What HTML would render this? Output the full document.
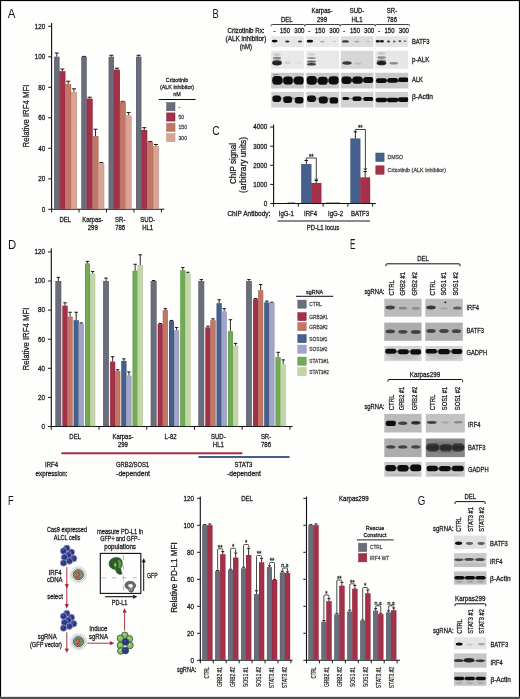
<!DOCTYPE html>
<html lang="en"><head><meta charset="utf-8"><title>Figure</title>
<style>html,body{margin:0;padding:0;background:#fff}svg{display:block}</style></head>
<body>
<svg width="520" height="699" viewBox="0 0 520 699" font-family="'Liberation Sans', Arial, sans-serif" shape-rendering="auto">
<defs><filter id="b1" x="-20%" y="-50%" width="140%" height="200%"><feGaussianBlur stdDeviation="0.7"/></filter><filter id="b10" x="-20%" y="-50%" width="140%" height="200%"><feGaussianBlur stdDeviation="1.0"/></filter><filter id="b15" x="-20%" y="-50%" width="140%" height="200%"><feGaussianBlur stdDeviation="1.2"/></filter><filter id="b2" x="-30%" y="-30%" width="160%" height="160%"><feGaussianBlur stdDeviation="2.5"/></filter><filter id="b05" x="-20%" y="-20%" width="140%" height="140%"><feGaussianBlur stdDeviation="0.35"/></filter><filter id="soft" x="0" y="0" width="100%" height="100%" filterUnits="userSpaceOnUse"><feGaussianBlur stdDeviation="0.32"/></filter></defs>
<rect x="0" y="0" width="520" height="699" fill="#fefefd" />
<g filter="url(#soft)">
<text transform="translate(7.8 18.1) scale(0.87 1)" x="0" y="0" font-size="13.24" fill="#151515">A</text>
<line x1="51.6" y1="23" x2="51.6" y2="209.8" stroke="#111" stroke-width="1.1" stroke-linecap="butt"/>
<line x1="51.1" y1="209.3" x2="164.3" y2="209.3" stroke="#111" stroke-width="1.1" stroke-linecap="butt"/>
<line x1="48.2" y1="209.3" x2="51.6" y2="209.3" stroke="#111" stroke-width="0.95" stroke-linecap="butt"/>
<text x="45.2" y="211.68" font-size="6.6" text-anchor="end" textLength="3.47" lengthAdjust="spacingAndGlyphs" fill="#1a1a1a" stroke="#1a1a1a" stroke-width="0.27">0</text>
<line x1="48.2" y1="178.8" x2="51.6" y2="178.8" stroke="#111" stroke-width="0.95" stroke-linecap="butt"/>
<text x="45.2" y="181.18" font-size="6.6" text-anchor="end" textLength="6.94" lengthAdjust="spacingAndGlyphs" fill="#1a1a1a" stroke="#1a1a1a" stroke-width="0.27">20</text>
<line x1="48.2" y1="148.3" x2="51.6" y2="148.3" stroke="#111" stroke-width="0.95" stroke-linecap="butt"/>
<text x="45.2" y="150.68" font-size="6.6" text-anchor="end" textLength="6.94" lengthAdjust="spacingAndGlyphs" fill="#1a1a1a" stroke="#1a1a1a" stroke-width="0.27">40</text>
<line x1="48.2" y1="117.8" x2="51.6" y2="117.8" stroke="#111" stroke-width="0.95" stroke-linecap="butt"/>
<text x="45.2" y="120.18" font-size="6.6" text-anchor="end" textLength="6.94" lengthAdjust="spacingAndGlyphs" fill="#1a1a1a" stroke="#1a1a1a" stroke-width="0.27">60</text>
<line x1="48.2" y1="87.3" x2="51.6" y2="87.3" stroke="#111" stroke-width="0.95" stroke-linecap="butt"/>
<text x="45.2" y="89.68" font-size="6.6" text-anchor="end" textLength="6.94" lengthAdjust="spacingAndGlyphs" fill="#1a1a1a" stroke="#1a1a1a" stroke-width="0.27">80</text>
<line x1="48.2" y1="56.8" x2="51.6" y2="56.8" stroke="#111" stroke-width="0.95" stroke-linecap="butt"/>
<text x="45.2" y="59.18" font-size="6.6" text-anchor="end" textLength="10.41" lengthAdjust="spacingAndGlyphs" fill="#1a1a1a" stroke="#1a1a1a" stroke-width="0.27">100</text>
<line x1="48.2" y1="26.3" x2="51.6" y2="26.3" stroke="#111" stroke-width="0.95" stroke-linecap="butt"/>
<text x="45.2" y="28.68" font-size="6.6" text-anchor="end" textLength="10.41" lengthAdjust="spacingAndGlyphs" fill="#1a1a1a" stroke="#1a1a1a" stroke-width="0.27">120</text>
<line x1="51.6" y1="209.3" x2="51.6" y2="212.5" stroke="#111" stroke-width="0.95" stroke-linecap="butt"/>
<line x1="79.05" y1="209.3" x2="79.05" y2="212.5" stroke="#111" stroke-width="0.95" stroke-linecap="butt"/>
<line x1="106.5" y1="209.3" x2="106.5" y2="212.5" stroke="#111" stroke-width="0.95" stroke-linecap="butt"/>
<line x1="133.95" y1="209.3" x2="133.95" y2="212.5" stroke="#111" stroke-width="0.95" stroke-linecap="butt"/>
<line x1="161.4" y1="209.3" x2="161.4" y2="212.5" stroke="#111" stroke-width="0.95" stroke-linecap="butt"/>
<text transform="translate(26 116) rotate(-90)" x="0" y="3.09" font-size="8.58" text-anchor="middle" textLength="63" lengthAdjust="spacingAndGlyphs" fill="#1a1a1a" stroke="#1a1a1a" stroke-width="0.27">Relative IRF4 MFI</text>
<line x1="56.75" y1="56.8" x2="56.75" y2="52.99" stroke="#151515" stroke-width="0.9" stroke-linecap="butt"/>
<line x1="54.75" y1="52.99" x2="58.75" y2="52.99" stroke="#151515" stroke-width="1" stroke-linecap="butt"/>
<rect x="54.1" y="56.8" width="5.3" height="152" fill="#6a6d7a" />
<rect x="54.35" y="57.05" width="4.8" height="151.75" fill="none" stroke="#555866" stroke-width="0.5" opacity="0.7"/>
<line x1="62.35" y1="71.29" x2="62.35" y2="69" stroke="#151515" stroke-width="0.9" stroke-linecap="butt"/>
<line x1="60.35" y1="69" x2="64.35" y2="69" stroke="#151515" stroke-width="1" stroke-linecap="butt"/>
<rect x="59.4" y="71.29" width="5.9" height="137.51" fill="#a3304a" />
<rect x="59.65" y="71.54" width="5.4" height="137.26" fill="none" stroke="#8d2840" stroke-width="0.5" opacity="0.7"/>
<line x1="68.2" y1="84.25" x2="68.2" y2="81.2" stroke="#151515" stroke-width="0.9" stroke-linecap="butt"/>
<line x1="66.2" y1="81.2" x2="70.2" y2="81.2" stroke="#151515" stroke-width="1" stroke-linecap="butt"/>
<rect x="65.3" y="84.25" width="5.8" height="124.55" fill="#c07766" />
<rect x="65.55" y="84.5" width="5.3" height="124.3" fill="none" stroke="#a96455" stroke-width="0.5" opacity="0.7"/>
<line x1="74" y1="91.88" x2="74" y2="88.83" stroke="#151515" stroke-width="0.9" stroke-linecap="butt"/>
<line x1="72" y1="88.83" x2="76" y2="88.83" stroke="#151515" stroke-width="1" stroke-linecap="butt"/>
<rect x="71.1" y="91.88" width="5.8" height="116.92" fill="#d9a494" />
<rect x="71.35" y="92.13" width="5.3" height="116.67" fill="none" stroke="#c38f80" stroke-width="0.5" opacity="0.7"/>
<text x="65.33" y="221.88" font-size="6.6" text-anchor="middle" textLength="11.67" lengthAdjust="spacingAndGlyphs" fill="#1a1a1a" stroke="#1a1a1a" stroke-width="0.27">DEL</text>
<line x1="84.05" y1="56.8" x2="84.05" y2="56.42" stroke="#151515" stroke-width="0.9" stroke-linecap="butt"/>
<line x1="82.05" y1="56.42" x2="86.05" y2="56.42" stroke="#151515" stroke-width="1" stroke-linecap="butt"/>
<rect x="81.4" y="56.8" width="5.3" height="152" fill="#6a6d7a" />
<rect x="81.65" y="57.05" width="4.8" height="151.75" fill="none" stroke="#555866" stroke-width="0.5" opacity="0.7"/>
<line x1="89.65" y1="98.74" x2="89.65" y2="97.21" stroke="#151515" stroke-width="0.9" stroke-linecap="butt"/>
<line x1="87.65" y1="97.21" x2="91.65" y2="97.21" stroke="#151515" stroke-width="1" stroke-linecap="butt"/>
<rect x="86.7" y="98.74" width="5.9" height="110.06" fill="#a3304a" />
<rect x="86.95" y="98.99" width="5.4" height="109.81" fill="none" stroke="#8d2840" stroke-width="0.5" opacity="0.7"/>
<line x1="95.5" y1="136.1" x2="95.5" y2="129.24" stroke="#151515" stroke-width="0.9" stroke-linecap="butt"/>
<line x1="93.5" y1="129.24" x2="97.5" y2="129.24" stroke="#151515" stroke-width="1" stroke-linecap="butt"/>
<rect x="92.6" y="136.1" width="5.8" height="72.7" fill="#c07766" />
<rect x="92.85" y="136.35" width="5.3" height="72.45" fill="none" stroke="#a96455" stroke-width="0.5" opacity="0.7"/>
<line x1="101.3" y1="163.25" x2="101.3" y2="162.64" stroke="#151515" stroke-width="0.9" stroke-linecap="butt"/>
<line x1="99.3" y1="162.64" x2="103.3" y2="162.64" stroke="#151515" stroke-width="1" stroke-linecap="butt"/>
<rect x="98.4" y="163.25" width="5.8" height="45.56" fill="#d9a494" />
<rect x="98.65" y="163.5" width="5.3" height="45.31" fill="none" stroke="#c38f80" stroke-width="0.5" opacity="0.7"/>
<text x="92.78" y="221.88" font-size="6.6" text-anchor="middle" textLength="21.01" lengthAdjust="spacingAndGlyphs" fill="#1a1a1a" stroke="#1a1a1a" stroke-width="0.27">Karpas-</text>
<text x="92.78" y="230.18" font-size="6.6" text-anchor="middle" textLength="10.01" lengthAdjust="spacingAndGlyphs" fill="#1a1a1a" stroke="#1a1a1a" stroke-width="0.27">299</text>
<line x1="111.35" y1="56.8" x2="111.35" y2="55.28" stroke="#151515" stroke-width="0.9" stroke-linecap="butt"/>
<line x1="109.35" y1="55.28" x2="113.35" y2="55.28" stroke="#151515" stroke-width="1" stroke-linecap="butt"/>
<rect x="108.7" y="56.8" width="5.3" height="152" fill="#6a6d7a" />
<rect x="108.95" y="57.05" width="4.8" height="151.75" fill="none" stroke="#555866" stroke-width="0.5" opacity="0.7"/>
<line x1="116.95" y1="69.76" x2="116.95" y2="68.24" stroke="#151515" stroke-width="0.9" stroke-linecap="butt"/>
<line x1="114.95" y1="68.24" x2="118.95" y2="68.24" stroke="#151515" stroke-width="1" stroke-linecap="butt"/>
<rect x="114" y="69.76" width="5.9" height="139.04" fill="#a3304a" />
<rect x="114.25" y="70.01" width="5.4" height="138.79" fill="none" stroke="#8d2840" stroke-width="0.5" opacity="0.7"/>
<line x1="122.8" y1="101.79" x2="122.8" y2="101.33" stroke="#151515" stroke-width="0.9" stroke-linecap="butt"/>
<line x1="120.8" y1="101.33" x2="124.8" y2="101.33" stroke="#151515" stroke-width="1" stroke-linecap="butt"/>
<rect x="119.9" y="101.79" width="5.8" height="107.01" fill="#c07766" />
<rect x="120.15" y="102.04" width="5.3" height="106.76" fill="none" stroke="#a96455" stroke-width="0.5" opacity="0.7"/>
<line x1="128.6" y1="115.51" x2="128.6" y2="112.46" stroke="#151515" stroke-width="0.9" stroke-linecap="butt"/>
<line x1="126.6" y1="112.46" x2="130.6" y2="112.46" stroke="#151515" stroke-width="1" stroke-linecap="butt"/>
<rect x="125.7" y="115.51" width="5.8" height="93.29" fill="#d9a494" />
<rect x="125.95" y="115.76" width="5.3" height="93.04" fill="none" stroke="#c38f80" stroke-width="0.5" opacity="0.7"/>
<text x="120.22" y="221.88" font-size="6.6" text-anchor="middle" textLength="10.33" lengthAdjust="spacingAndGlyphs" fill="#1a1a1a" stroke="#1a1a1a" stroke-width="0.27">SR-</text>
<text x="120.22" y="230.18" font-size="6.6" text-anchor="middle" textLength="10.01" lengthAdjust="spacingAndGlyphs" fill="#1a1a1a" stroke="#1a1a1a" stroke-width="0.27">786</text>
<line x1="138.65" y1="56.8" x2="138.65" y2="55.28" stroke="#151515" stroke-width="0.9" stroke-linecap="butt"/>
<line x1="136.65" y1="55.28" x2="140.65" y2="55.28" stroke="#151515" stroke-width="1" stroke-linecap="butt"/>
<rect x="136" y="56.8" width="5.3" height="152" fill="#6a6d7a" />
<rect x="136.25" y="57.05" width="4.8" height="151.75" fill="none" stroke="#555866" stroke-width="0.5" opacity="0.7"/>
<line x1="144.25" y1="130" x2="144.25" y2="127.71" stroke="#151515" stroke-width="0.9" stroke-linecap="butt"/>
<line x1="142.25" y1="127.71" x2="146.25" y2="127.71" stroke="#151515" stroke-width="1" stroke-linecap="butt"/>
<rect x="141.3" y="130" width="5.9" height="78.8" fill="#a3304a" />
<rect x="141.55" y="130.25" width="5.4" height="78.55" fill="none" stroke="#8d2840" stroke-width="0.5" opacity="0.7"/>
<line x1="150.1" y1="141.9" x2="150.1" y2="141.44" stroke="#151515" stroke-width="0.9" stroke-linecap="butt"/>
<line x1="148.1" y1="141.44" x2="152.1" y2="141.44" stroke="#151515" stroke-width="1" stroke-linecap="butt"/>
<rect x="147.2" y="141.9" width="5.8" height="66.91" fill="#c07766" />
<rect x="147.45" y="142.15" width="5.3" height="66.66" fill="none" stroke="#a96455" stroke-width="0.5" opacity="0.7"/>
<line x1="155.9" y1="146.01" x2="155.9" y2="144.49" stroke="#151515" stroke-width="0.9" stroke-linecap="butt"/>
<line x1="153.9" y1="144.49" x2="157.9" y2="144.49" stroke="#151515" stroke-width="1" stroke-linecap="butt"/>
<rect x="153" y="146.01" width="5.8" height="62.79" fill="#d9a494" />
<rect x="153.25" y="146.26" width="5.3" height="62.54" fill="none" stroke="#c38f80" stroke-width="0.5" opacity="0.7"/>
<text x="147.68" y="221.88" font-size="6.6" text-anchor="middle" textLength="14.67" lengthAdjust="spacingAndGlyphs" fill="#1a1a1a" stroke="#1a1a1a" stroke-width="0.27">SUD-</text>
<text x="147.68" y="230.18" font-size="6.6" text-anchor="middle" textLength="11.01" lengthAdjust="spacingAndGlyphs" fill="#1a1a1a" stroke="#1a1a1a" stroke-width="0.27">HL1</text>
<text x="177" y="82.34" font-size="5.94" text-anchor="middle" textLength="22.51" lengthAdjust="spacingAndGlyphs" fill="#1a1a1a" stroke="#1a1a1a" stroke-width="0.27">Crizotinib</text>
<text x="177" y="89.34" font-size="5.94" text-anchor="middle" textLength="34.22" lengthAdjust="spacingAndGlyphs" fill="#1a1a1a" stroke="#1a1a1a" stroke-width="0.27">(ALK inhibitor)</text>
<text x="177" y="95.94" font-size="5.94" text-anchor="middle" textLength="7.5" lengthAdjust="spacingAndGlyphs" fill="#1a1a1a" stroke="#1a1a1a" stroke-width="0.27">nM</text>
<line x1="158.8" y1="99.5" x2="195.6" y2="99.5" stroke="#111" stroke-width="1" stroke-linecap="butt"/>
<rect x="166.6" y="102.6" width="8.4" height="8.2" fill="#6a6d7a" stroke="#555866" stroke-width="0.5" />
<text x="178.4" y="108.76" font-size="5.72" text-anchor="start" textLength="1.73" lengthAdjust="spacingAndGlyphs" fill="#4a4a4a" stroke="#4a4a4a" stroke-width="0.27">-</text>
<rect x="166.6" y="112.9" width="8.4" height="8.2" fill="#a3304a" stroke="#8d2840" stroke-width="0.5" />
<text x="178.4" y="119.06" font-size="5.72" text-anchor="start" textLength="5.78" lengthAdjust="spacingAndGlyphs" fill="#4a4a4a" stroke="#4a4a4a" stroke-width="0.27">50</text>
<rect x="166.6" y="123.2" width="8.4" height="8.2" fill="#c07766" stroke="#a96455" stroke-width="0.5" />
<text x="178.4" y="129.36" font-size="5.72" text-anchor="start" textLength="8.68" lengthAdjust="spacingAndGlyphs" fill="#4a4a4a" stroke="#4a4a4a" stroke-width="0.27">150</text>
<rect x="166.6" y="133.5" width="8.4" height="8.2" fill="#d9a494" stroke="#c38f80" stroke-width="0.5" />
<text x="178.4" y="139.66" font-size="5.72" text-anchor="start" textLength="8.68" lengthAdjust="spacingAndGlyphs" fill="#4a4a4a" stroke="#4a4a4a" stroke-width="0.27">300</text>
<text transform="translate(212.6 18.3) scale(0.71 1)" x="0" y="0" font-size="13.09" fill="#151515">B</text>
<text x="286.8" y="21.68" font-size="6.6" text-anchor="middle" textLength="11.67" lengthAdjust="spacingAndGlyphs" fill="#1a1a1a" stroke="#1a1a1a" stroke-width="0.27">DEL</text>
<text x="322" y="12.98" font-size="6.6" text-anchor="middle" textLength="21.01" lengthAdjust="spacingAndGlyphs" fill="#1a1a1a" stroke="#1a1a1a" stroke-width="0.27">Karpas-</text>
<text x="322" y="21.68" font-size="6.6" text-anchor="middle" textLength="10.01" lengthAdjust="spacingAndGlyphs" fill="#1a1a1a" stroke="#1a1a1a" stroke-width="0.27">299</text>
<text x="357" y="12.98" font-size="6.6" text-anchor="middle" textLength="14.67" lengthAdjust="spacingAndGlyphs" fill="#1a1a1a" stroke="#1a1a1a" stroke-width="0.27">SUD-</text>
<text x="357" y="21.68" font-size="6.6" text-anchor="middle" textLength="11.01" lengthAdjust="spacingAndGlyphs" fill="#1a1a1a" stroke="#1a1a1a" stroke-width="0.27">HL1</text>
<text x="392" y="12.98" font-size="6.6" text-anchor="middle" textLength="10.33" lengthAdjust="spacingAndGlyphs" fill="#1a1a1a" stroke="#1a1a1a" stroke-width="0.27">SR-</text>
<text x="392" y="21.68" font-size="6.6" text-anchor="middle" textLength="10.01" lengthAdjust="spacingAndGlyphs" fill="#1a1a1a" stroke="#1a1a1a" stroke-width="0.27">786</text>
<path d="M271.2 26.2 L271.2 25.5 Q271.2 24.5 272.2 24.5 L303.6 24.5 Q304.6 24.5 304.6 25.5 L304.6 26.2" fill="none" stroke="#111" stroke-width="0.8" />
<path d="M305 26.2 L305 25.5 Q305 24.5 306 24.5 L339 24.5 Q340 24.5 340 25.5 L340 26.2" fill="none" stroke="#111" stroke-width="0.8" />
<path d="M340.4 26.2 L340.4 25.5 Q340.4 24.5 341.4 24.5 L373.9 24.5 Q374.9 24.5 374.9 25.5 L374.9 26.2" fill="none" stroke="#111" stroke-width="0.8" />
<path d="M375.3 26.2 L375.3 25.5 Q375.3 24.5 376.3 24.5 L408.6 24.5 Q409.6 24.5 409.6 25.5 L409.6 26.2" fill="none" stroke="#111" stroke-width="0.8" />
<text x="264.6" y="32.98" font-size="6.6" text-anchor="end" textLength="37" lengthAdjust="spacingAndGlyphs" fill="#1a1a1a" stroke="#1a1a1a" stroke-width="0.27">Crizotinib Rx:</text>
<text x="245.9" y="40.98" font-size="6.6" text-anchor="middle" textLength="40.8" lengthAdjust="spacingAndGlyphs" fill="#1a1a1a" stroke="#1a1a1a" stroke-width="0.27">(ALK inhibitor)</text>
<text x="245.8" y="48.98" font-size="6.6" text-anchor="middle" textLength="12.33" lengthAdjust="spacingAndGlyphs" fill="#1a1a1a" stroke="#1a1a1a" stroke-width="0.27">(nM)</text>
<text x="274.5" y="33.18" font-size="6.6" text-anchor="middle" textLength="2" lengthAdjust="spacingAndGlyphs" fill="#1a1a1a" stroke="#1a1a1a" stroke-width="0.27">-</text>
<text x="285" y="32.98" font-size="6.6" text-anchor="middle" textLength="10" lengthAdjust="spacingAndGlyphs" fill="#1a1a1a" stroke="#1a1a1a" stroke-width="0.27">150</text>
<text x="299.4" y="32.98" font-size="6.6" text-anchor="middle" textLength="10.2" lengthAdjust="spacingAndGlyphs" fill="#1a1a1a" stroke="#1a1a1a" stroke-width="0.27">300</text>
<text x="309.3" y="33.18" font-size="6.6" text-anchor="middle" textLength="2" lengthAdjust="spacingAndGlyphs" fill="#1a1a1a" stroke="#1a1a1a" stroke-width="0.27">-</text>
<text x="320" y="32.98" font-size="6.6" text-anchor="middle" textLength="10" lengthAdjust="spacingAndGlyphs" fill="#1a1a1a" stroke="#1a1a1a" stroke-width="0.27">150</text>
<text x="334.4" y="32.98" font-size="6.6" text-anchor="middle" textLength="10.2" lengthAdjust="spacingAndGlyphs" fill="#1a1a1a" stroke="#1a1a1a" stroke-width="0.27">300</text>
<text x="344.3" y="33.18" font-size="6.6" text-anchor="middle" textLength="2" lengthAdjust="spacingAndGlyphs" fill="#1a1a1a" stroke="#1a1a1a" stroke-width="0.27">-</text>
<text x="355" y="32.98" font-size="6.6" text-anchor="middle" textLength="10" lengthAdjust="spacingAndGlyphs" fill="#1a1a1a" stroke="#1a1a1a" stroke-width="0.27">150</text>
<text x="369.1" y="32.98" font-size="6.6" text-anchor="middle" textLength="10.2" lengthAdjust="spacingAndGlyphs" fill="#1a1a1a" stroke="#1a1a1a" stroke-width="0.27">300</text>
<text x="379" y="33.18" font-size="6.6" text-anchor="middle" textLength="2" lengthAdjust="spacingAndGlyphs" fill="#1a1a1a" stroke="#1a1a1a" stroke-width="0.27">-</text>
<text x="389.5" y="32.98" font-size="6.6" text-anchor="middle" textLength="10" lengthAdjust="spacingAndGlyphs" fill="#1a1a1a" stroke="#1a1a1a" stroke-width="0.27">150</text>
<text x="403.9" y="32.98" font-size="6.6" text-anchor="middle" textLength="10.2" lengthAdjust="spacingAndGlyphs" fill="#1a1a1a" stroke="#1a1a1a" stroke-width="0.27">300</text>
<text x="412" y="44.18" font-size="6.6" text-anchor="start" textLength="17.5" lengthAdjust="spacingAndGlyphs" fill="#1a1a1a" stroke="#1a1a1a" stroke-width="0.27">BATF3</text>
<text x="412" y="61.98" font-size="6.6" text-anchor="start" textLength="17.4" lengthAdjust="spacingAndGlyphs" fill="#1a1a1a" stroke="#1a1a1a" stroke-width="0.27">p-ALK</text>
<text x="412" y="82.48" font-size="6.6" text-anchor="start" textLength="11" lengthAdjust="spacingAndGlyphs" fill="#1a1a1a" stroke="#1a1a1a" stroke-width="0.27">ALK</text>
<text x="412" y="98.78" font-size="6.6" text-anchor="start" textLength="21" lengthAdjust="spacingAndGlyphs" fill="#1a1a1a" stroke="#1a1a1a" stroke-width="0.27">β-Actin</text>
<clipPath id="c141"><rect x="271.2" y="36.2" width="32.6" height="10.8"/></clipPath>
<rect x="271.2" y="36.2" width="32.6" height="10.8" fill="#e7e7e7" />
<g clip-path="url(#c141)">
<g filter="url(#b1)">
<ellipse cx="274.6" cy="41.1" rx="3" ry="1.4" fill="#0c0c0c" opacity="1"/>
<ellipse cx="287.3" cy="41.5" rx="2.2" ry="1" fill="#0c0c0c" opacity="0.85"/>
<ellipse cx="300" cy="41.5" rx="2.2" ry="1" fill="#0c0c0c" opacity="0.72"/>
</g></g>
<clipPath id="c149"><rect x="306.2" y="36.2" width="33" height="10.8"/></clipPath>
<rect x="306.2" y="36.2" width="33" height="10.8" fill="#e9e9e9" />
<g clip-path="url(#c149)">
<g filter="url(#b1)">
<ellipse cx="309.9" cy="41.2" rx="3.2" ry="1.4" fill="#0c0c0c" opacity="1"/>
<ellipse cx="322.2" cy="41.6" rx="2.2" ry="0.9" fill="#0c0c0c" opacity="0.28"/>
<ellipse cx="334.5" cy="41.6" rx="2" ry="0.8" fill="#0c0c0c" opacity="0.12"/>
</g></g>
<clipPath id="c157"><rect x="340.8" y="36.2" width="32.7" height="10.8"/></clipPath>
<rect x="340.8" y="36.2" width="32.7" height="10.8" fill="#dcdcdc" />
<g clip-path="url(#c157)">
<g filter="url(#b1)">
<ellipse cx="345.4" cy="41.4" rx="3.4" ry="1.2" fill="#0c0c0c" opacity="0.8"/>
<ellipse cx="356.8" cy="41.6" rx="2.8" ry="0.9" fill="#0c0c0c" opacity="0.25"/>
<ellipse cx="368" cy="41.6" rx="2.5" ry="0.8" fill="#0c0c0c" opacity="0.1"/>
</g></g>
<clipPath id="c165"><rect x="375.3" y="36.2" width="32.9" height="10.8"/></clipPath>
<rect x="375.3" y="36.2" width="32.9" height="10.8" fill="#e4e4e4" />
<g clip-path="url(#c165)">
<g filter="url(#b1)">
<ellipse cx="377.8" cy="41.3" rx="2.2" ry="1.3" fill="#0c0c0c" opacity="0.95"/>
<ellipse cx="381.9" cy="41.3" rx="2" ry="1.3" fill="#0c0c0c" opacity="0.95"/>
<ellipse cx="388.5" cy="41.5" rx="1.6" ry="1.1" fill="#0c0c0c" opacity="0.8"/>
<ellipse cx="394.2" cy="41.5" rx="1.3" ry="0.9" fill="#0c0c0c" opacity="0.65"/>
<ellipse cx="399.9" cy="41.2" rx="1.5" ry="1" fill="#0c0c0c" opacity="0.7"/>
<ellipse cx="405" cy="41.2" rx="1.4" ry="0.9" fill="#0c0c0c" opacity="0.45"/>
</g></g>
<clipPath id="c176"><rect x="271.2" y="50.8" width="32.6" height="18"/></clipPath>
<rect x="271.2" y="50.8" width="32.6" height="18" fill="#e8e8e8" />
<g clip-path="url(#c176)">
<g filter="url(#b1)">
<ellipse cx="277" cy="63" rx="4.9" ry="2.4" fill="#0c0c0c" opacity="0.82"/>
<ellipse cx="277" cy="63.2" rx="4.2" ry="1.5" fill="#0c0c0c" opacity="0.55"/>
<ellipse cx="277" cy="58" rx="4.1" ry="1.3" fill="#0c0c0c" opacity="0.42"/>
<ellipse cx="277" cy="54.4" rx="3.7" ry="1.5" fill="#0c0c0c" opacity="0.13"/>
<ellipse cx="277" cy="60.4" rx="4.2" ry="1" fill="#0c0c0c" opacity="0.35"/>
<ellipse cx="287.5" cy="62.8" rx="3" ry="1.2" fill="#0c0c0c" opacity="0.12"/>
<ellipse cx="299" cy="62.8" rx="2.5" ry="1" fill="#0c0c0c" opacity="0.05"/>
</g></g>
<clipPath id="c188"><rect x="306.2" y="50.8" width="33" height="18"/></clipPath>
<rect x="306.2" y="50.8" width="33" height="18" fill="#e8e8e8" />
<g clip-path="url(#c188)">
<g filter="url(#b1)">
<ellipse cx="311.5" cy="64.2" rx="4.6" ry="1.3" fill="#0c0c0c" opacity="0.78"/>
<ellipse cx="311.5" cy="61.6" rx="4.5" ry="1.2" fill="#0c0c0c" opacity="0.6"/>
<ellipse cx="311.5" cy="58" rx="4.3" ry="1.1" fill="#0c0c0c" opacity="0.36"/>
<ellipse cx="311.5" cy="54.4" rx="3.7" ry="1.1" fill="#0c0c0c" opacity="0.12"/>
</g></g>
<clipPath id="c197"><rect x="340.8" y="50.8" width="32.7" height="18"/></clipPath>
<rect x="340.8" y="50.8" width="32.7" height="18" fill="#d6d6d6" />
<g clip-path="url(#c197)">
<g filter="url(#b1)">
<ellipse cx="347" cy="63" rx="4.7" ry="1.7" fill="#0c0c0c" opacity="0.8"/>
<ellipse cx="358" cy="63.4" rx="3.25" ry="1" fill="#0c0c0c" opacity="0.12"/>
</g></g>
<clipPath id="c204"><rect x="375.3" y="50.8" width="32.9" height="18"/></clipPath>
<rect x="375.3" y="50.8" width="32.9" height="18" fill="#e6e6e6" />
<g clip-path="url(#c204)">
<g filter="url(#b1)">
<ellipse cx="381.5" cy="63" rx="4.9" ry="2.3" fill="#0c0c0c" opacity="0.84"/>
<ellipse cx="381.5" cy="63.2" rx="4.2" ry="1.4" fill="#0c0c0c" opacity="0.5"/>
<ellipse cx="381.5" cy="60.4" rx="4.5" ry="1" fill="#0c0c0c" opacity="0.4"/>
<ellipse cx="381.5" cy="57.6" rx="4.5" ry="1.3" fill="#0c0c0c" opacity="0.4"/>
<ellipse cx="381.5" cy="53.4" rx="4" ry="1.2" fill="#0c0c0c" opacity="0.15"/>
<ellipse cx="393.7" cy="63.2" rx="4.3" ry="1.3" fill="#0c0c0c" opacity="0.4"/>
</g></g>
<clipPath id="c215"><rect x="271.2" y="72.8" width="32.6" height="15.7"/></clipPath>
<rect x="271.2" y="72.8" width="32.6" height="15.7" fill="#c9c9c9" />
<g clip-path="url(#c215)">
<g filter="url(#b1)">
<rect x="272.2" y="76.1" width="10.2" height="8.6" rx="3.61" fill="#0c0c0c" opacity="1"/>
<rect x="283.3" y="76.6" width="9.4" height="8" rx="3.36" fill="#0c0c0c" opacity="1"/>
<rect x="294" y="76.6" width="9.8" height="8" rx="3.36" fill="#0c0c0c" opacity="1"/>
<ellipse cx="287.5" cy="80.6" rx="15" ry="2" fill="#0c0c0c" opacity="0.6"/>
<ellipse cx="276" cy="74.6" rx="3" ry="0.7" fill="#0c0c0c" opacity="0.35"/>
</g></g>
<clipPath id="c225"><rect x="306.2" y="72.8" width="33" height="15.7"/></clipPath>
<rect x="306.2" y="72.8" width="33" height="15.7" fill="#c9c9c9" />
<g clip-path="url(#c225)">
<g filter="url(#b1)">
<rect x="306.6" y="76.1" width="10.2" height="8.6" rx="3.61" fill="#0c0c0c" opacity="1"/>
<rect x="317.9" y="76.8" width="9.6" height="8" rx="3.36" fill="#0c0c0c" opacity="1"/>
<rect x="328.7" y="76.3" width="10" height="8.2" rx="3.44" fill="#0c0c0c" opacity="1"/>
<ellipse cx="322.7" cy="80.6" rx="15" ry="2" fill="#0c0c0c" opacity="0.6"/>
</g></g>
<clipPath id="c234"><rect x="340.8" y="72.8" width="32.7" height="15.7"/></clipPath>
<rect x="340.8" y="72.8" width="32.7" height="15.7" fill="#c9c9c9" />
<g clip-path="url(#c234)">
<g filter="url(#b1)">
<rect x="341.5" y="76.5" width="10" height="7.4" rx="3.11" fill="#0c0c0c" opacity="1"/>
<rect x="352.5" y="76.6" width="10" height="7.2" rx="3.02" fill="#0c0c0c" opacity="1"/>
<rect x="363.3" y="77" width="10" height="6" rx="2.52" fill="#0c0c0c" opacity="1"/>
<ellipse cx="357.5" cy="80.2" rx="15" ry="1.8" fill="#0c0c0c" opacity="0.7"/>
</g></g>
<clipPath id="c243"><rect x="375.3" y="72.8" width="32.9" height="15.7"/></clipPath>
<rect x="375.3" y="72.8" width="32.9" height="15.7" fill="#c9c9c9" />
<g clip-path="url(#c243)">
<g filter="url(#b1)">
<rect x="376" y="78.2" width="10.6" height="4.8" rx="2.02" fill="#0c0c0c" opacity="1"/>
<rect x="387.4" y="78" width="10.4" height="4.8" rx="2.02" fill="#0c0c0c" opacity="1"/>
<rect x="398.4" y="77.5" width="10" height="4.6" rx="1.93" fill="#0c0c0c" opacity="1"/>
<ellipse cx="392" cy="80.6" rx="17" ry="1.2" fill="#0c0c0c" opacity="0.7"/>
</g></g>
<clipPath id="c252"><rect x="271.2" y="91.9" width="32.6" height="15.6"/></clipPath>
<rect x="271.2" y="91.9" width="32.6" height="15.6" fill="#d1d1d1" />
<g clip-path="url(#c252)">
<g filter="url(#b1)">
<rect x="272.4" y="95.4" width="8.6" height="6.6" rx="2.77" fill="#0c0c0c" opacity="1"/>
<rect x="283.3" y="96.3" width="8.8" height="6.6" rx="2.77" fill="#0c0c0c" opacity="1"/>
<rect x="294.8" y="97" width="8.8" height="6.4" rx="2.69" fill="#0c0c0c" opacity="1"/>
<ellipse cx="288" cy="98.4" rx="15" ry="1" fill="#0c0c0c" opacity="0.3"/>
</g></g>
<clipPath id="c261"><rect x="306.2" y="91.9" width="33" height="15.6"/></clipPath>
<rect x="306.2" y="91.9" width="33" height="15.6" fill="#d1d1d1" />
<g clip-path="url(#c261)">
<g filter="url(#b1)">
<rect x="307.1" y="95.4" width="8.8" height="6.6" rx="2.77" fill="#0c0c0c" opacity="1"/>
<rect x="318.8" y="96.5" width="9" height="7" rx="2.94" fill="#0c0c0c" opacity="1"/>
<rect x="329.6" y="97.2" width="8.6" height="6.4" rx="2.69" fill="#0c0c0c" opacity="1"/>
<ellipse cx="322.7" cy="98.6" rx="15" ry="1" fill="#0c0c0c" opacity="0.3"/>
</g></g>
<clipPath id="c270"><rect x="340.8" y="91.9" width="32.7" height="15.6"/></clipPath>
<rect x="340.8" y="91.9" width="32.7" height="15.6" fill="#d1d1d1" />
<g clip-path="url(#c270)">
<g filter="url(#b1)">
<rect x="342.5" y="96.9" width="6.6" height="3.2" rx="1.34" fill="#0c0c0c" opacity="1"/>
<rect x="352.5" y="96.5" width="9" height="4.4" rx="1.85" fill="#0c0c0c" opacity="1"/>
<rect x="363.4" y="96.9" width="9.8" height="4.2" rx="1.76" fill="#0c0c0c" opacity="1"/>
<ellipse cx="357.5" cy="98.6" rx="15" ry="0.7" fill="#0c0c0c" opacity="0.35"/>
</g></g>
<clipPath id="c279"><rect x="375.3" y="91.9" width="32.9" height="15.6"/></clipPath>
<rect x="375.3" y="91.9" width="32.9" height="15.6" fill="#d1d1d1" />
<g clip-path="url(#c279)">
<g filter="url(#b1)">
<rect x="375.8" y="97.7" width="11" height="4.6" rx="1.93" fill="#0c0c0c" opacity="1"/>
<rect x="387.1" y="97.7" width="11" height="4.6" rx="1.93" fill="#0c0c0c" opacity="1"/>
<rect x="398.1" y="97.3" width="10.6" height="4.6" rx="1.93" fill="#0c0c0c" opacity="1"/>
<ellipse cx="392" cy="99.8" rx="17" ry="1.5" fill="#0c0c0c" opacity="0.85"/>
</g></g>
<text transform="translate(212.2 134.67) scale(0.77 1)" x="0" y="0" font-size="13.29" fill="#151515">C</text>
<line x1="273.6" y1="124.6" x2="273.6" y2="204" stroke="#111" stroke-width="1.1" stroke-linecap="butt"/>
<line x1="273.1" y1="203.5" x2="375.8" y2="203.5" stroke="#111" stroke-width="1.1" stroke-linecap="butt"/>
<line x1="270.2" y1="203.5" x2="273.6" y2="203.5" stroke="#111" stroke-width="0.95" stroke-linecap="butt"/>
<text x="267.2" y="205.88" font-size="6.6" text-anchor="end" textLength="3.47" lengthAdjust="spacingAndGlyphs" fill="#1a1a1a" stroke="#1a1a1a" stroke-width="0.27">0</text>
<line x1="270.2" y1="184.4" x2="273.6" y2="184.4" stroke="#111" stroke-width="0.95" stroke-linecap="butt"/>
<text x="267.2" y="186.78" font-size="6.6" text-anchor="end" textLength="13.88" lengthAdjust="spacingAndGlyphs" fill="#1a1a1a" stroke="#1a1a1a" stroke-width="0.27">1000</text>
<line x1="270.2" y1="165.3" x2="273.6" y2="165.3" stroke="#111" stroke-width="0.95" stroke-linecap="butt"/>
<text x="267.2" y="167.68" font-size="6.6" text-anchor="end" textLength="13.88" lengthAdjust="spacingAndGlyphs" fill="#1a1a1a" stroke="#1a1a1a" stroke-width="0.27">2000</text>
<line x1="270.2" y1="146.2" x2="273.6" y2="146.2" stroke="#111" stroke-width="0.95" stroke-linecap="butt"/>
<text x="267.2" y="148.58" font-size="6.6" text-anchor="end" textLength="13.88" lengthAdjust="spacingAndGlyphs" fill="#1a1a1a" stroke="#1a1a1a" stroke-width="0.27">3000</text>
<line x1="270.2" y1="127.1" x2="273.6" y2="127.1" stroke="#111" stroke-width="0.95" stroke-linecap="butt"/>
<text x="267.2" y="129.48" font-size="6.6" text-anchor="end" textLength="13.88" lengthAdjust="spacingAndGlyphs" fill="#1a1a1a" stroke="#1a1a1a" stroke-width="0.27">4000</text>
<line x1="273.6" y1="203.5" x2="273.6" y2="206.7" stroke="#111" stroke-width="0.95" stroke-linecap="butt"/>
<line x1="298.35" y1="203.5" x2="298.35" y2="206.7" stroke="#111" stroke-width="0.95" stroke-linecap="butt"/>
<line x1="323.1" y1="203.5" x2="323.1" y2="206.7" stroke="#111" stroke-width="0.95" stroke-linecap="butt"/>
<line x1="347.85" y1="203.5" x2="347.85" y2="206.7" stroke="#111" stroke-width="0.95" stroke-linecap="butt"/>
<line x1="372.6" y1="203.5" x2="372.6" y2="206.7" stroke="#111" stroke-width="0.95" stroke-linecap="butt"/>
<text transform="translate(233 163.5) rotate(-90)" x="0" y="3.09" font-size="8.58" text-anchor="middle" textLength="41" lengthAdjust="spacingAndGlyphs" fill="#1a1a1a" stroke="#1a1a1a" stroke-width="0.27">ChIP signal</text>
<text transform="translate(243.4 165) rotate(-90)" x="0" y="3.09" font-size="8.58" text-anchor="middle" textLength="56" lengthAdjust="spacingAndGlyphs" fill="#1a1a1a" stroke="#1a1a1a" stroke-width="0.27">(arbitrary units)</text>
<line x1="287.5" y1="202.6" x2="295" y2="202.6" stroke="#555" stroke-width="0.6" stroke-linecap="butt"/>
<line x1="326" y1="202.6" x2="340" y2="202.6" stroke="#555" stroke-width="0.6" stroke-linecap="butt"/>
<line x1="306.3" y1="164.15" x2="306.3" y2="160.53" stroke="#151515" stroke-width="0.9" stroke-linecap="butt"/>
<line x1="304.5" y1="160.53" x2="308.1" y2="160.53" stroke="#151515" stroke-width="1" stroke-linecap="butt"/>
<rect x="301.3" y="164.15" width="10" height="38.85" fill="#45618c" />
<rect x="301.55" y="164.4" width="9.5" height="38.6" fill="none" stroke="#364e73" stroke-width="0.5" opacity="0.7"/>
<line x1="316.3" y1="182.97" x2="316.3" y2="180.58" stroke="#151515" stroke-width="0.9" stroke-linecap="butt"/>
<line x1="314.5" y1="180.58" x2="318.1" y2="180.58" stroke="#151515" stroke-width="1" stroke-linecap="butt"/>
<rect x="311.3" y="182.97" width="10" height="20.03" fill="#a3304a" />
<rect x="311.55" y="183.22" width="9.5" height="19.78" fill="none" stroke="#8d2840" stroke-width="0.5" opacity="0.7"/>
<line x1="355.4" y1="138.56" x2="355.4" y2="131.88" stroke="#151515" stroke-width="0.9" stroke-linecap="butt"/>
<line x1="353.6" y1="131.88" x2="357.2" y2="131.88" stroke="#151515" stroke-width="1" stroke-linecap="butt"/>
<rect x="350.5" y="138.56" width="9.8" height="64.44" fill="#45618c" />
<rect x="350.75" y="138.81" width="9.3" height="64.19" fill="none" stroke="#364e73" stroke-width="0.5" opacity="0.7"/>
<line x1="365.2" y1="177.52" x2="365.2" y2="171.41" stroke="#151515" stroke-width="0.9" stroke-linecap="butt"/>
<line x1="363.4" y1="171.41" x2="367" y2="171.41" stroke="#151515" stroke-width="1" stroke-linecap="butt"/>
<rect x="360.3" y="177.52" width="9.8" height="25.48" fill="#a3304a" />
<rect x="360.55" y="177.77" width="9.3" height="25.23" fill="none" stroke="#8d2840" stroke-width="0.5" opacity="0.7"/>
<path d="M306.3 161 L306.3 158 L316.3 158 L316.3 180.4" fill="none" stroke="#111" stroke-width="0.8" />
<path d="M314.8 178.6 L316.3 180.7 L317.8 178.6" fill="none" stroke="#111" stroke-width="0.8" />
<text x="311.3" y="158.78" font-size="6.6" text-anchor="middle" textLength="4.67" lengthAdjust="spacingAndGlyphs" fill="#1a1a1a" stroke="#1a1a1a" stroke-width="0.27">**</text>
<path d="M355.3 132 L355.3 129.5 L365.4 129.5 L365.4 170" fill="none" stroke="#111" stroke-width="0.8" />
<path d="M363.9 168.2 L365.4 170.3 L366.9 168.2" fill="none" stroke="#111" stroke-width="0.8" />
<text x="360.35" y="130.28" font-size="6.6" text-anchor="middle" textLength="4.67" lengthAdjust="spacingAndGlyphs" fill="#1a1a1a" stroke="#1a1a1a" stroke-width="0.27">**</text>
<text x="270.4" y="216.38" font-size="6.6" text-anchor="end" textLength="43" lengthAdjust="spacingAndGlyphs" fill="#1a1a1a" stroke="#1a1a1a" stroke-width="0.27">ChIP Antibody:</text>
<text x="286.3" y="216.38" font-size="6.6" text-anchor="middle" textLength="15.01" lengthAdjust="spacingAndGlyphs" fill="#1a1a1a" stroke="#1a1a1a" stroke-width="0.27">IgG-1</text>
<text x="310.6" y="216.38" font-size="6.6" text-anchor="middle" textLength="13" lengthAdjust="spacingAndGlyphs" fill="#1a1a1a" stroke="#1a1a1a" stroke-width="0.27">IRF4</text>
<text x="335.5" y="216.38" font-size="6.6" text-anchor="middle" textLength="15.01" lengthAdjust="spacingAndGlyphs" fill="#1a1a1a" stroke="#1a1a1a" stroke-width="0.27">IgG-2</text>
<text x="360" y="216.38" font-size="6.6" text-anchor="middle" textLength="18.23" lengthAdjust="spacingAndGlyphs" fill="#1a1a1a" stroke="#1a1a1a" stroke-width="0.27">BATF3</text>
<line x1="277.5" y1="221" x2="370" y2="221" stroke="#111" stroke-width="1" stroke-linecap="butt"/>
<text x="323" y="230.38" font-size="6.6" text-anchor="middle" textLength="32.68" lengthAdjust="spacingAndGlyphs" fill="#1a1a1a" stroke="#1a1a1a" stroke-width="0.27">PD-L1 locus</text>
<rect x="375.8" y="153" width="8.3" height="8.5" fill="#45618c" stroke="#364e73" stroke-width="0.5" />
<rect x="375.8" y="165.8" width="8.3" height="8.5" fill="#a3304a" stroke="#8d2840" stroke-width="0.5" />
<text x="387.5" y="159.36" font-size="5.72" text-anchor="start" textLength="15.6" lengthAdjust="spacingAndGlyphs" fill="#4a4a4a" stroke="#4a4a4a" stroke-width="0.27">DMSO</text>
<text x="387.5" y="172.06" font-size="5.72" text-anchor="start" textLength="58.5" lengthAdjust="spacingAndGlyphs" fill="#4a4a4a" stroke="#4a4a4a" stroke-width="0.27">Crizotinib (ALK inhibitor)</text>
<text transform="translate(7.9 248.5) scale(0.85 1)" x="0" y="0" font-size="13.38" fill="#151515">D</text>
<line x1="51.3" y1="248.6" x2="51.3" y2="427" stroke="#111" stroke-width="1.1" stroke-linecap="butt"/>
<line x1="50.8" y1="426.5" x2="292.6" y2="426.5" stroke="#111" stroke-width="1.1" stroke-linecap="butt"/>
<line x1="47.9" y1="426.5" x2="51.3" y2="426.5" stroke="#111" stroke-width="0.95" stroke-linecap="butt"/>
<text x="45" y="428.88" font-size="6.6" text-anchor="end" textLength="3.47" lengthAdjust="spacingAndGlyphs" fill="#1a1a1a" stroke="#1a1a1a" stroke-width="0.27">0</text>
<line x1="47.9" y1="397.4" x2="51.3" y2="397.4" stroke="#111" stroke-width="0.95" stroke-linecap="butt"/>
<text x="45" y="399.78" font-size="6.6" text-anchor="end" textLength="6.94" lengthAdjust="spacingAndGlyphs" fill="#1a1a1a" stroke="#1a1a1a" stroke-width="0.27">20</text>
<line x1="47.9" y1="368.3" x2="51.3" y2="368.3" stroke="#111" stroke-width="0.95" stroke-linecap="butt"/>
<text x="45" y="370.68" font-size="6.6" text-anchor="end" textLength="6.94" lengthAdjust="spacingAndGlyphs" fill="#1a1a1a" stroke="#1a1a1a" stroke-width="0.27">40</text>
<line x1="47.9" y1="339.2" x2="51.3" y2="339.2" stroke="#111" stroke-width="0.95" stroke-linecap="butt"/>
<text x="45" y="341.58" font-size="6.6" text-anchor="end" textLength="6.94" lengthAdjust="spacingAndGlyphs" fill="#1a1a1a" stroke="#1a1a1a" stroke-width="0.27">60</text>
<line x1="47.9" y1="310.1" x2="51.3" y2="310.1" stroke="#111" stroke-width="0.95" stroke-linecap="butt"/>
<text x="45" y="312.48" font-size="6.6" text-anchor="end" textLength="6.94" lengthAdjust="spacingAndGlyphs" fill="#1a1a1a" stroke="#1a1a1a" stroke-width="0.27">80</text>
<line x1="47.9" y1="281" x2="51.3" y2="281" stroke="#111" stroke-width="0.95" stroke-linecap="butt"/>
<text x="45" y="283.38" font-size="6.6" text-anchor="end" textLength="10.41" lengthAdjust="spacingAndGlyphs" fill="#1a1a1a" stroke="#1a1a1a" stroke-width="0.27">100</text>
<line x1="47.9" y1="251.9" x2="51.3" y2="251.9" stroke="#111" stroke-width="0.95" stroke-linecap="butt"/>
<text x="45" y="254.28" font-size="6.6" text-anchor="end" textLength="10.41" lengthAdjust="spacingAndGlyphs" fill="#1a1a1a" stroke="#1a1a1a" stroke-width="0.27">120</text>
<line x1="51.3" y1="426.5" x2="51.3" y2="429.7" stroke="#111" stroke-width="0.95" stroke-linecap="butt"/>
<line x1="99.02" y1="426.5" x2="99.02" y2="429.7" stroke="#111" stroke-width="0.95" stroke-linecap="butt"/>
<line x1="146.74" y1="426.5" x2="146.74" y2="429.7" stroke="#111" stroke-width="0.95" stroke-linecap="butt"/>
<line x1="194.46" y1="426.5" x2="194.46" y2="429.7" stroke="#111" stroke-width="0.95" stroke-linecap="butt"/>
<line x1="242.18" y1="426.5" x2="242.18" y2="429.7" stroke="#111" stroke-width="0.95" stroke-linecap="butt"/>
<line x1="289.9" y1="426.5" x2="289.9" y2="429.7" stroke="#111" stroke-width="0.95" stroke-linecap="butt"/>
<text transform="translate(26 339) rotate(-90)" x="0" y="3.09" font-size="8.58" text-anchor="middle" textLength="63" lengthAdjust="spacingAndGlyphs" fill="#1a1a1a" stroke="#1a1a1a" stroke-width="0.27">Relative IRF4 MFI</text>
<line x1="58.35" y1="281" x2="58.35" y2="277.36" stroke="#151515" stroke-width="0.9" stroke-linecap="butt"/>
<line x1="56.65" y1="277.36" x2="60.05" y2="277.36" stroke="#151515" stroke-width="1" stroke-linecap="butt"/>
<rect x="55.5" y="281" width="5.7" height="145" fill="#6a6d7a" />
<rect x="55.75" y="281.25" width="5.2" height="144.75" fill="none" stroke="#555866" stroke-width="0.5" opacity="0.7"/>
<line x1="65" y1="305.74" x2="65" y2="302.82" stroke="#151515" stroke-width="0.9" stroke-linecap="butt"/>
<line x1="63.3" y1="302.82" x2="66.7" y2="302.82" stroke="#151515" stroke-width="1" stroke-linecap="butt"/>
<rect x="62.5" y="305.74" width="5" height="120.26" fill="#a3304a" />
<rect x="62.75" y="305.99" width="4.5" height="120.01" fill="none" stroke="#8d2840" stroke-width="0.5" opacity="0.7"/>
<line x1="70.05" y1="316.65" x2="70.05" y2="312.28" stroke="#151515" stroke-width="0.9" stroke-linecap="butt"/>
<line x1="68.35" y1="312.28" x2="71.75" y2="312.28" stroke="#151515" stroke-width="1" stroke-linecap="butt"/>
<rect x="67.5" y="316.65" width="5.1" height="109.35" fill="#c07766" />
<rect x="67.75" y="316.9" width="4.6" height="109.1" fill="none" stroke="#a96455" stroke-width="0.5" opacity="0.7"/>
<line x1="76.2" y1="320.28" x2="76.2" y2="312.28" stroke="#151515" stroke-width="0.9" stroke-linecap="butt"/>
<line x1="74.5" y1="312.28" x2="77.9" y2="312.28" stroke="#151515" stroke-width="1" stroke-linecap="butt"/>
<rect x="73.7" y="320.28" width="5" height="105.72" fill="#45618c" />
<rect x="73.95" y="320.53" width="4.5" height="105.47" fill="none" stroke="#364e73" stroke-width="0.5" opacity="0.7"/>
<line x1="81.25" y1="323.92" x2="81.25" y2="322.9" stroke="#151515" stroke-width="0.9" stroke-linecap="butt"/>
<line x1="79.55" y1="322.9" x2="82.95" y2="322.9" stroke="#151515" stroke-width="1" stroke-linecap="butt"/>
<rect x="78.7" y="323.92" width="5.1" height="102.08" fill="#a2a5c8" />
<rect x="78.95" y="324.17" width="4.6" height="101.83" fill="none" stroke="#8c8fb3" stroke-width="0.5" opacity="0.7"/>
<line x1="87.5" y1="263.54" x2="87.5" y2="261.36" stroke="#151515" stroke-width="0.9" stroke-linecap="butt"/>
<line x1="85.8" y1="261.36" x2="89.2" y2="261.36" stroke="#151515" stroke-width="1" stroke-linecap="butt"/>
<rect x="85" y="263.54" width="5" height="162.46" fill="#72ab55" />
<rect x="85.25" y="263.79" width="4.5" height="162.21" fill="none" stroke="#5c9343" stroke-width="0.5" opacity="0.7"/>
<line x1="92.6" y1="273.73" x2="92.6" y2="271.54" stroke="#151515" stroke-width="0.9" stroke-linecap="butt"/>
<line x1="90.9" y1="271.54" x2="94.3" y2="271.54" stroke="#151515" stroke-width="1" stroke-linecap="butt"/>
<rect x="90" y="273.73" width="5.2" height="152.27" fill="#c4d5aa" />
<rect x="90.25" y="273.98" width="4.7" height="152.02" fill="none" stroke="#afc195" stroke-width="0.5" opacity="0.7"/>
<text x="75.16" y="438.88" font-size="6.6" text-anchor="middle" textLength="11.67" lengthAdjust="spacingAndGlyphs" fill="#1a1a1a" stroke="#1a1a1a" stroke-width="0.27">DEL</text>
<line x1="106" y1="281" x2="106" y2="278.09" stroke="#151515" stroke-width="0.9" stroke-linecap="butt"/>
<line x1="104.3" y1="278.09" x2="107.7" y2="278.09" stroke="#151515" stroke-width="1" stroke-linecap="butt"/>
<rect x="103.15" y="281" width="5.7" height="145" fill="#6a6d7a" />
<rect x="103.4" y="281.25" width="5.2" height="144.75" fill="none" stroke="#555866" stroke-width="0.5" opacity="0.7"/>
<line x1="112.65" y1="361.75" x2="112.65" y2="356.66" stroke="#151515" stroke-width="0.9" stroke-linecap="butt"/>
<line x1="110.95" y1="356.66" x2="114.35" y2="356.66" stroke="#151515" stroke-width="1" stroke-linecap="butt"/>
<rect x="110.15" y="361.75" width="5" height="64.25" fill="#a3304a" />
<rect x="110.4" y="362" width="4.5" height="64" fill="none" stroke="#8d2840" stroke-width="0.5" opacity="0.7"/>
<line x1="117.7" y1="371.21" x2="117.7" y2="369.75" stroke="#151515" stroke-width="0.9" stroke-linecap="butt"/>
<line x1="116" y1="369.75" x2="119.4" y2="369.75" stroke="#151515" stroke-width="1" stroke-linecap="butt"/>
<rect x="115.15" y="371.21" width="5.1" height="54.79" fill="#c07766" />
<rect x="115.4" y="371.46" width="4.6" height="54.54" fill="none" stroke="#a96455" stroke-width="0.5" opacity="0.7"/>
<line x1="123.85" y1="361.02" x2="123.85" y2="358.84" stroke="#151515" stroke-width="0.9" stroke-linecap="butt"/>
<line x1="122.15" y1="358.84" x2="125.55" y2="358.84" stroke="#151515" stroke-width="1" stroke-linecap="butt"/>
<rect x="121.35" y="361.02" width="5" height="64.98" fill="#45618c" />
<rect x="121.6" y="361.27" width="4.5" height="64.73" fill="none" stroke="#364e73" stroke-width="0.5" opacity="0.7"/>
<line x1="128.9" y1="375.57" x2="128.9" y2="371.94" stroke="#151515" stroke-width="0.9" stroke-linecap="butt"/>
<line x1="127.2" y1="371.94" x2="130.6" y2="371.94" stroke="#151515" stroke-width="1" stroke-linecap="butt"/>
<rect x="126.35" y="375.57" width="5.1" height="50.43" fill="#a2a5c8" />
<rect x="126.6" y="375.82" width="4.6" height="50.18" fill="none" stroke="#8c8fb3" stroke-width="0.5" opacity="0.7"/>
<line x1="135.15" y1="270.81" x2="135.15" y2="264.27" stroke="#151515" stroke-width="0.9" stroke-linecap="butt"/>
<line x1="133.45" y1="264.27" x2="136.85" y2="264.27" stroke="#151515" stroke-width="1" stroke-linecap="butt"/>
<rect x="132.65" y="270.81" width="5" height="155.19" fill="#72ab55" />
<rect x="132.9" y="271.06" width="4.5" height="154.94" fill="none" stroke="#5c9343" stroke-width="0.5" opacity="0.7"/>
<line x1="140.25" y1="265" x2="140.25" y2="254.81" stroke="#151515" stroke-width="0.9" stroke-linecap="butt"/>
<line x1="138.55" y1="254.81" x2="141.95" y2="254.81" stroke="#151515" stroke-width="1" stroke-linecap="butt"/>
<rect x="137.65" y="265" width="5.2" height="161" fill="#c4d5aa" />
<rect x="137.9" y="265.25" width="4.7" height="160.75" fill="none" stroke="#afc195" stroke-width="0.5" opacity="0.7"/>
<text x="122.88" y="438.88" font-size="6.6" text-anchor="middle" textLength="21.01" lengthAdjust="spacingAndGlyphs" fill="#1a1a1a" stroke="#1a1a1a" stroke-width="0.27">Karpas-</text>
<text x="122.88" y="447.48" font-size="6.6" text-anchor="middle" textLength="10.01" lengthAdjust="spacingAndGlyphs" fill="#1a1a1a" stroke="#1a1a1a" stroke-width="0.27">299</text>
<line x1="153.65" y1="281" x2="153.65" y2="280.56" stroke="#151515" stroke-width="0.9" stroke-linecap="butt"/>
<line x1="151.95" y1="280.56" x2="155.35" y2="280.56" stroke="#151515" stroke-width="1" stroke-linecap="butt"/>
<rect x="150.8" y="281" width="5.7" height="145" fill="#6a6d7a" />
<rect x="151.05" y="281.25" width="5.2" height="144.75" fill="none" stroke="#555866" stroke-width="0.5" opacity="0.7"/>
<line x1="160.3" y1="324.21" x2="160.3" y2="323.49" stroke="#151515" stroke-width="0.9" stroke-linecap="butt"/>
<line x1="158.6" y1="323.49" x2="162" y2="323.49" stroke="#151515" stroke-width="1" stroke-linecap="butt"/>
<rect x="157.8" y="324.21" width="5" height="101.79" fill="#a3304a" />
<rect x="158.05" y="324.46" width="4.5" height="101.54" fill="none" stroke="#8d2840" stroke-width="0.5" opacity="0.7"/>
<line x1="165.35" y1="310.1" x2="165.35" y2="308.64" stroke="#151515" stroke-width="0.9" stroke-linecap="butt"/>
<line x1="163.65" y1="308.64" x2="167.05" y2="308.64" stroke="#151515" stroke-width="1" stroke-linecap="butt"/>
<rect x="162.8" y="310.1" width="5.1" height="115.9" fill="#c07766" />
<rect x="163.05" y="310.35" width="4.6" height="115.65" fill="none" stroke="#a96455" stroke-width="0.5" opacity="0.7"/>
<line x1="171.5" y1="321.16" x2="171.5" y2="320.43" stroke="#151515" stroke-width="0.9" stroke-linecap="butt"/>
<line x1="169.8" y1="320.43" x2="173.2" y2="320.43" stroke="#151515" stroke-width="1" stroke-linecap="butt"/>
<rect x="169" y="321.16" width="5" height="104.84" fill="#45618c" />
<rect x="169.25" y="321.41" width="4.5" height="104.59" fill="none" stroke="#364e73" stroke-width="0.5" opacity="0.7"/>
<line x1="176.55" y1="330.47" x2="176.55" y2="327.56" stroke="#151515" stroke-width="0.9" stroke-linecap="butt"/>
<line x1="174.85" y1="327.56" x2="178.25" y2="327.56" stroke="#151515" stroke-width="1" stroke-linecap="butt"/>
<rect x="174" y="330.47" width="5.1" height="95.53" fill="#a2a5c8" />
<rect x="174.25" y="330.72" width="4.6" height="95.28" fill="none" stroke="#8c8fb3" stroke-width="0.5" opacity="0.7"/>
<line x1="182.8" y1="270.38" x2="182.8" y2="267.47" stroke="#151515" stroke-width="0.9" stroke-linecap="butt"/>
<line x1="181.1" y1="267.47" x2="184.5" y2="267.47" stroke="#151515" stroke-width="1" stroke-linecap="butt"/>
<rect x="180.3" y="270.38" width="5" height="155.62" fill="#72ab55" />
<rect x="180.55" y="270.63" width="4.5" height="155.37" fill="none" stroke="#5c9343" stroke-width="0.5" opacity="0.7"/>
<line x1="187.9" y1="273.73" x2="187.9" y2="272.27" stroke="#151515" stroke-width="0.9" stroke-linecap="butt"/>
<line x1="186.2" y1="272.27" x2="189.6" y2="272.27" stroke="#151515" stroke-width="1" stroke-linecap="butt"/>
<rect x="185.3" y="273.73" width="5.2" height="152.27" fill="#c4d5aa" />
<rect x="185.55" y="273.98" width="4.7" height="152.02" fill="none" stroke="#afc195" stroke-width="0.5" opacity="0.7"/>
<text x="170.6" y="438.88" font-size="6.6" text-anchor="middle" textLength="12.01" lengthAdjust="spacingAndGlyphs" fill="#1a1a1a" stroke="#1a1a1a" stroke-width="0.27">L-82</text>
<line x1="201.3" y1="281" x2="201.3" y2="279.54" stroke="#151515" stroke-width="0.9" stroke-linecap="butt"/>
<line x1="199.6" y1="279.54" x2="203" y2="279.54" stroke="#151515" stroke-width="1" stroke-linecap="butt"/>
<rect x="198.45" y="281" width="5.7" height="145" fill="#6a6d7a" />
<rect x="198.7" y="281.25" width="5.2" height="144.75" fill="none" stroke="#555866" stroke-width="0.5" opacity="0.7"/>
<line x1="207.95" y1="327.56" x2="207.95" y2="326.11" stroke="#151515" stroke-width="0.9" stroke-linecap="butt"/>
<line x1="206.25" y1="326.11" x2="209.65" y2="326.11" stroke="#151515" stroke-width="1" stroke-linecap="butt"/>
<rect x="205.45" y="327.56" width="5" height="98.44" fill="#a3304a" />
<rect x="205.7" y="327.81" width="4.5" height="98.19" fill="none" stroke="#8d2840" stroke-width="0.5" opacity="0.7"/>
<line x1="213" y1="320.28" x2="213" y2="318.83" stroke="#151515" stroke-width="0.9" stroke-linecap="butt"/>
<line x1="211.3" y1="318.83" x2="214.7" y2="318.83" stroke="#151515" stroke-width="1" stroke-linecap="butt"/>
<rect x="210.45" y="320.28" width="5.1" height="105.72" fill="#c07766" />
<rect x="210.7" y="320.53" width="4.6" height="105.47" fill="none" stroke="#a96455" stroke-width="0.5" opacity="0.7"/>
<line x1="219.15" y1="303.41" x2="219.15" y2="299.77" stroke="#151515" stroke-width="0.9" stroke-linecap="butt"/>
<line x1="217.45" y1="299.77" x2="220.85" y2="299.77" stroke="#151515" stroke-width="1" stroke-linecap="butt"/>
<rect x="216.65" y="303.41" width="5" height="122.59" fill="#45618c" />
<rect x="216.9" y="303.66" width="4.5" height="122.34" fill="none" stroke="#364e73" stroke-width="0.5" opacity="0.7"/>
<line x1="224.2" y1="311.56" x2="224.2" y2="308.64" stroke="#151515" stroke-width="0.9" stroke-linecap="butt"/>
<line x1="222.5" y1="308.64" x2="225.9" y2="308.64" stroke="#151515" stroke-width="1" stroke-linecap="butt"/>
<rect x="221.65" y="311.56" width="5.1" height="114.44" fill="#a2a5c8" />
<rect x="221.9" y="311.81" width="4.6" height="114.19" fill="none" stroke="#8c8fb3" stroke-width="0.5" opacity="0.7"/>
<line x1="230.45" y1="331.34" x2="230.45" y2="319.7" stroke="#151515" stroke-width="0.9" stroke-linecap="butt"/>
<line x1="228.75" y1="319.7" x2="232.15" y2="319.7" stroke="#151515" stroke-width="1" stroke-linecap="butt"/>
<rect x="227.95" y="331.34" width="5" height="94.66" fill="#72ab55" />
<rect x="228.2" y="331.59" width="4.5" height="94.41" fill="none" stroke="#5c9343" stroke-width="0.5" opacity="0.7"/>
<line x1="235.55" y1="345.89" x2="235.55" y2="343.42" stroke="#151515" stroke-width="0.9" stroke-linecap="butt"/>
<line x1="233.85" y1="343.42" x2="237.25" y2="343.42" stroke="#151515" stroke-width="1" stroke-linecap="butt"/>
<rect x="232.95" y="345.89" width="5.2" height="80.11" fill="#c4d5aa" />
<rect x="233.2" y="346.14" width="4.7" height="79.86" fill="none" stroke="#afc195" stroke-width="0.5" opacity="0.7"/>
<text x="218.32" y="438.88" font-size="6.6" text-anchor="middle" textLength="14.67" lengthAdjust="spacingAndGlyphs" fill="#1a1a1a" stroke="#1a1a1a" stroke-width="0.27">SUD-</text>
<text x="218.32" y="447.48" font-size="6.6" text-anchor="middle" textLength="11.01" lengthAdjust="spacingAndGlyphs" fill="#1a1a1a" stroke="#1a1a1a" stroke-width="0.27">HL1</text>
<line x1="248.95" y1="281" x2="248.95" y2="279.54" stroke="#151515" stroke-width="0.9" stroke-linecap="butt"/>
<line x1="247.25" y1="279.54" x2="250.65" y2="279.54" stroke="#151515" stroke-width="1" stroke-linecap="butt"/>
<rect x="246.1" y="281" width="5.7" height="145" fill="#6a6d7a" />
<rect x="246.35" y="281.25" width="5.2" height="144.75" fill="none" stroke="#555866" stroke-width="0.5" opacity="0.7"/>
<line x1="255.6" y1="299.33" x2="255.6" y2="298.46" stroke="#151515" stroke-width="0.9" stroke-linecap="butt"/>
<line x1="253.9" y1="298.46" x2="257.3" y2="298.46" stroke="#151515" stroke-width="1" stroke-linecap="butt"/>
<rect x="253.1" y="299.33" width="5" height="126.67" fill="#a3304a" />
<rect x="253.35" y="299.58" width="4.5" height="126.42" fill="none" stroke="#8d2840" stroke-width="0.5" opacity="0.7"/>
<line x1="260.65" y1="290.31" x2="260.65" y2="284.49" stroke="#151515" stroke-width="0.9" stroke-linecap="butt"/>
<line x1="258.95" y1="284.49" x2="262.35" y2="284.49" stroke="#151515" stroke-width="1" stroke-linecap="butt"/>
<rect x="258.1" y="290.31" width="5.1" height="135.69" fill="#c07766" />
<rect x="258.35" y="290.56" width="4.6" height="135.44" fill="none" stroke="#a96455" stroke-width="0.5" opacity="0.7"/>
<line x1="266.8" y1="302.53" x2="266.8" y2="301.08" stroke="#151515" stroke-width="0.9" stroke-linecap="butt"/>
<line x1="265.1" y1="301.08" x2="268.5" y2="301.08" stroke="#151515" stroke-width="1" stroke-linecap="butt"/>
<rect x="264.3" y="302.53" width="5" height="123.47" fill="#45618c" />
<rect x="264.55" y="302.78" width="4.5" height="123.22" fill="none" stroke="#364e73" stroke-width="0.5" opacity="0.7"/>
<line x1="271.85" y1="302.82" x2="271.85" y2="302.24" stroke="#151515" stroke-width="0.9" stroke-linecap="butt"/>
<line x1="270.15" y1="302.24" x2="273.55" y2="302.24" stroke="#151515" stroke-width="1" stroke-linecap="butt"/>
<rect x="269.3" y="302.82" width="5.1" height="123.18" fill="#a2a5c8" />
<rect x="269.55" y="303.07" width="4.6" height="122.93" fill="none" stroke="#8c8fb3" stroke-width="0.5" opacity="0.7"/>
<line x1="278.1" y1="357.24" x2="278.1" y2="352.3" stroke="#151515" stroke-width="0.9" stroke-linecap="butt"/>
<line x1="276.4" y1="352.3" x2="279.8" y2="352.3" stroke="#151515" stroke-width="1" stroke-linecap="butt"/>
<rect x="275.6" y="357.24" width="5" height="68.76" fill="#72ab55" />
<rect x="275.85" y="357.49" width="4.5" height="68.51" fill="none" stroke="#5c9343" stroke-width="0.5" opacity="0.7"/>
<line x1="283.2" y1="364.52" x2="283.2" y2="359.86" stroke="#151515" stroke-width="0.9" stroke-linecap="butt"/>
<line x1="281.5" y1="359.86" x2="284.9" y2="359.86" stroke="#151515" stroke-width="1" stroke-linecap="butt"/>
<rect x="280.6" y="364.52" width="5.2" height="61.48" fill="#c4d5aa" />
<rect x="280.85" y="364.77" width="4.7" height="61.23" fill="none" stroke="#afc195" stroke-width="0.5" opacity="0.7"/>
<text x="266.04" y="438.88" font-size="6.6" text-anchor="middle" textLength="10.33" lengthAdjust="spacingAndGlyphs" fill="#1a1a1a" stroke="#1a1a1a" stroke-width="0.27">SR-</text>
<text x="266.04" y="447.48" font-size="6.6" text-anchor="middle" textLength="10.01" lengthAdjust="spacingAndGlyphs" fill="#1a1a1a" stroke="#1a1a1a" stroke-width="0.27">786</text>
<text x="314.6" y="293.84" font-size="5.94" text-anchor="middle" textLength="17.1" lengthAdjust="spacingAndGlyphs" fill="#1a1a1a" stroke="#1a1a1a" stroke-width="0.27">sgRNA</text>
<line x1="296" y1="296.3" x2="333.2" y2="296.3" stroke="#111" stroke-width="1" stroke-linecap="butt"/>
<rect x="297.8" y="300.1" width="8.4" height="8.1" fill="#6a6d7a" stroke="#555866" stroke-width="0.5" />
<text x="309.3" y="306.16" font-size="5.72" text-anchor="start" textLength="12.49" lengthAdjust="spacingAndGlyphs" fill="#4a4a4a" stroke="#4a4a4a" stroke-width="0.27">CTRL</text>
<rect x="297.8" y="312.6" width="8.4" height="8.1" fill="#a3304a" stroke="#8d2840" stroke-width="0.5" />
<text x="309.3" y="318.66" font-size="5.72" text-anchor="start" textLength="18.35" lengthAdjust="spacingAndGlyphs" fill="#4a4a4a" stroke="#4a4a4a" stroke-width="0.27">GRB2#1</text>
<rect x="297.8" y="322.6" width="8.4" height="8.1" fill="#c07766" stroke="#a96455" stroke-width="0.5" />
<text x="309.3" y="328.66" font-size="5.72" text-anchor="start" textLength="18.35" lengthAdjust="spacingAndGlyphs" fill="#4a4a4a" stroke="#4a4a4a" stroke-width="0.27">GRB2#2</text>
<rect x="297.8" y="334.6" width="8.4" height="8.1" fill="#45618c" stroke="#364e73" stroke-width="0.5" />
<text x="309.3" y="340.66" font-size="5.72" text-anchor="start" textLength="18.09" lengthAdjust="spacingAndGlyphs" fill="#4a4a4a" stroke="#4a4a4a" stroke-width="0.27">SOS1#1</text>
<rect x="297.8" y="345.1" width="8.4" height="8.1" fill="#a2a5c8" stroke="#8c8fb3" stroke-width="0.5" />
<text x="309.3" y="351.16" font-size="5.72" text-anchor="start" textLength="18.09" lengthAdjust="spacingAndGlyphs" fill="#4a4a4a" stroke="#4a4a4a" stroke-width="0.27">SOS1#2</text>
<rect x="297.8" y="357.1" width="8.4" height="8.1" fill="#72ab55" stroke="#5c9343" stroke-width="0.5" />
<text x="309.3" y="363.16" font-size="5.72" text-anchor="start" textLength="19.5" lengthAdjust="spacingAndGlyphs" fill="#4a4a4a" stroke="#4a4a4a" stroke-width="0.27">STAT3#1</text>
<rect x="297.8" y="367.6" width="8.4" height="8.1" fill="#c4d5aa" stroke="#afc195" stroke-width="0.5" />
<text x="309.3" y="373.66" font-size="5.72" text-anchor="start" textLength="19.5" lengthAdjust="spacingAndGlyphs" fill="#4a4a4a" stroke="#4a4a4a" stroke-width="0.27">STAT3#2</text>
<line x1="61.4" y1="453.3" x2="242.4" y2="453.3" stroke="#a3304a" stroke-width="2" stroke-linecap="butt"/>
<line x1="198.4" y1="457" x2="289.6" y2="457" stroke="#45618c" stroke-width="2" stroke-linecap="butt"/>
<text x="51.6" y="467.38" font-size="6.6" text-anchor="middle" textLength="13" lengthAdjust="spacingAndGlyphs" fill="#1a1a1a" stroke="#1a1a1a" stroke-width="0.27">IRF4</text>
<text x="51.6" y="475.58" font-size="6.6" text-anchor="middle" textLength="32" lengthAdjust="spacingAndGlyphs" fill="#1a1a1a" stroke="#1a1a1a" stroke-width="0.27">expression:</text>
<text x="132.6" y="467.38" font-size="6.6" text-anchor="middle" textLength="33" lengthAdjust="spacingAndGlyphs" fill="#1a1a1a" stroke="#1a1a1a" stroke-width="0.27">GRB2/SOS1</text>
<text x="116.2" y="475.58" font-size="6.6" text-anchor="start" textLength="33.8" lengthAdjust="spacingAndGlyphs" fill="#1a1a1a" stroke="#1a1a1a" stroke-width="0.27">-dependent</text>
<text x="243.5" y="467.38" font-size="6.6" text-anchor="middle" textLength="17.78" lengthAdjust="spacingAndGlyphs" fill="#1a1a1a" stroke="#1a1a1a" stroke-width="0.27">STAT3</text>
<text x="227" y="475.58" font-size="6.6" text-anchor="start" textLength="33.8" lengthAdjust="spacingAndGlyphs" fill="#1a1a1a" stroke="#1a1a1a" stroke-width="0.27">-dependent</text>
<text transform="translate(349.9 248.5) scale(0.59 1)" x="0" y="0" font-size="13.82" fill="#151515">E</text>
<text x="423" y="261.37" font-size="7.15" text-anchor="middle" textLength="11.6" lengthAdjust="spacingAndGlyphs" fill="#1a1a1a" stroke="#1a1a1a" stroke-width="0.27">DEL</text>
<path d="M386 266.2 L386 264.8 Q386 263.8 387 263.8 L459 263.8 Q460 263.8 460 264.8 L460 266.2" fill="none" stroke="#111" stroke-width="1" />
<text x="384.4" y="294.37" font-size="7.15" text-anchor="end" textLength="20" lengthAdjust="spacingAndGlyphs" fill="#1a1a1a" stroke="#1a1a1a" stroke-width="0.27">sgRNA:</text>
<text transform="translate(391.3 295.6) rotate(-90)" x="0" y="2.59" font-size="7.2" text-anchor="start" textLength="15.5" lengthAdjust="spacingAndGlyphs" fill="#1a1a1a" stroke="#1a1a1a" stroke-width="0.27">CTRL</text>
<text transform="translate(402 295.6) rotate(-90)" x="0" y="2.59" font-size="7.2" text-anchor="start" textLength="23.5" lengthAdjust="spacingAndGlyphs" fill="#1a1a1a" stroke="#1a1a1a" stroke-width="0.27">GRB2 #1</text>
<text transform="translate(414.3 295.6) rotate(-90)" x="0" y="2.59" font-size="7.2" text-anchor="start" textLength="23.5" lengthAdjust="spacingAndGlyphs" fill="#1a1a1a" stroke="#1a1a1a" stroke-width="0.27">GRB2 #2</text>
<text transform="translate(432.5 295.6) rotate(-90)" x="0" y="2.59" font-size="7.2" text-anchor="start" textLength="15.5" lengthAdjust="spacingAndGlyphs" fill="#1a1a1a" stroke="#1a1a1a" stroke-width="0.27">CTRL</text>
<text transform="translate(443.8 295.6) rotate(-90)" x="0" y="2.59" font-size="7.2" text-anchor="start" textLength="23.5" lengthAdjust="spacingAndGlyphs" fill="#1a1a1a" stroke="#1a1a1a" stroke-width="0.27">SOS1 #1</text>
<text transform="translate(455.6 295.6) rotate(-90)" x="0" y="2.59" font-size="7.2" text-anchor="start" textLength="23.5" lengthAdjust="spacingAndGlyphs" fill="#1a1a1a" stroke="#1a1a1a" stroke-width="0.27">SOS1 #2</text>
<text x="466.5" y="309.77" font-size="7.15" text-anchor="start" textLength="12.4" lengthAdjust="spacingAndGlyphs" fill="#1a1a1a" stroke="#1a1a1a" stroke-width="0.27">IRF4</text>
<text x="466.5" y="333.17" font-size="7.15" text-anchor="start" textLength="17.6" lengthAdjust="spacingAndGlyphs" fill="#1a1a1a" stroke="#1a1a1a" stroke-width="0.27">BATF3</text>
<text x="466.5" y="355.07" font-size="7.15" text-anchor="start" textLength="20.6" lengthAdjust="spacingAndGlyphs" fill="#1a1a1a" stroke="#1a1a1a" stroke-width="0.27">GADPH</text>
<clipPath id="c552"><rect x="384.3" y="298.8" width="37.3" height="17.9"/></clipPath>
<rect x="384.3" y="298.8" width="37.3" height="17.9" fill="#bababa" />
<g clip-path="url(#c552)">
<g filter="url(#b1)">
<ellipse cx="390.3" cy="307.5" rx="4.7" ry="1.9" fill="#0c0c0c" opacity="0.7"/>
<ellipse cx="402.9" cy="308.2" rx="4.1" ry="1.4" fill="#0c0c0c" opacity="0.3"/>
<ellipse cx="415.8" cy="308.4" rx="4.1" ry="1.4" fill="#0c0c0c" opacity="0.24"/>
</g></g>
<clipPath id="c560"><rect x="425.3" y="298.8" width="37.5" height="17.9"/></clipPath>
<rect x="425.3" y="298.8" width="37.5" height="17.9" fill="#bdbdbd" />
<g clip-path="url(#c560)">
<g filter="url(#b1)">
<ellipse cx="431" cy="307.5" rx="4.7" ry="1.9" fill="#0c0c0c" opacity="0.76"/>
<ellipse cx="444" cy="308.4" rx="3.7" ry="1.2" fill="#0c0c0c" opacity="0.12"/>
<ellipse cx="457.4" cy="308" rx="4.3" ry="1.6" fill="#0c0c0c" opacity="0.55"/>
<ellipse cx="445.4" cy="302.3" rx="0.9" ry="0.9" fill="#0c0c0c" opacity="1"/>
</g></g>
<clipPath id="c569"><rect x="384.3" y="322.6" width="37.3" height="18.2"/></clipPath>
<rect x="384.3" y="322.6" width="37.3" height="18.2" fill="#acacac" />
<g clip-path="url(#c569)">
<g filter="url(#b1)">
<ellipse cx="390.3" cy="331.4" rx="4.6" ry="1.9" fill="#0c0c0c" opacity="0.68"/>
<ellipse cx="402.9" cy="331.8" rx="4.6" ry="1.9" fill="#0c0c0c" opacity="0.68"/>
<ellipse cx="415.8" cy="331.9" rx="4.8" ry="1.9" fill="#0c0c0c" opacity="0.7"/>
</g></g>
<clipPath id="c577"><rect x="425.3" y="322.6" width="37.5" height="18.2"/></clipPath>
<rect x="425.3" y="322.6" width="37.5" height="18.2" fill="#afafaf" />
<g clip-path="url(#c577)">
<g filter="url(#b1)">
<ellipse cx="431" cy="330.9" rx="4.6" ry="1.9" fill="#0c0c0c" opacity="0.7"/>
<ellipse cx="444" cy="331" rx="4.7" ry="1.9" fill="#0c0c0c" opacity="0.7"/>
<ellipse cx="456.4" cy="331.2" rx="4.6" ry="1.9" fill="#0c0c0c" opacity="0.68"/>
</g></g>
<clipPath id="c585"><rect x="384.3" y="346" width="37.3" height="15.1"/></clipPath>
<rect x="384.3" y="346" width="37.3" height="15.1" fill="#d4d4d4" />
<g clip-path="url(#c585)">
<g filter="url(#b1)">
<rect x="385.2" y="348.8" width="11" height="5" rx="2.1" fill="#0c0c0c" opacity="1"/>
<rect x="398.2" y="349.3" width="10.4" height="5" rx="2.1" fill="#0c0c0c" opacity="1"/>
<rect x="410.4" y="349.2" width="10.8" height="5.2" rx="2.18" fill="#0c0c0c" opacity="1"/>
<ellipse cx="403" cy="351.4" rx="17.5" ry="1.2" fill="#0c0c0c" opacity="0.5"/>
<ellipse cx="403" cy="354.5" rx="17.5" ry="3.5" fill="#0c0c0c" opacity="0.1"/>
<ellipse cx="403" cy="358.6" rx="17" ry="0.8" fill="#0c0c0c" opacity="0.1"/>
</g></g>
<clipPath id="c596"><rect x="425.3" y="346" width="37.5" height="15.1"/></clipPath>
<rect x="425.3" y="346" width="37.5" height="15.1" fill="#d4d4d4" />
<g clip-path="url(#c596)">
<g filter="url(#b1)">
<rect x="425.5" y="348.9" width="11.4" height="4.6" rx="1.93" fill="#0c0c0c" opacity="1"/>
<rect x="438.2" y="349" width="11.6" height="5.2" rx="2.18" fill="#0c0c0c" opacity="1"/>
<rect x="451.6" y="348.9" width="10.8" height="5" rx="2.1" fill="#0c0c0c" opacity="1"/>
<ellipse cx="444" cy="351.4" rx="17.5" ry="1.2" fill="#0c0c0c" opacity="0.5"/>
<ellipse cx="444" cy="354.5" rx="17.5" ry="3.5" fill="#0c0c0c" opacity="0.1"/>
<ellipse cx="444" cy="358.6" rx="17" ry="0.8" fill="#0c0c0c" opacity="0.1"/>
</g></g>
<text x="425" y="376.87" font-size="7.15" text-anchor="middle" textLength="30.5" lengthAdjust="spacingAndGlyphs" fill="#1a1a1a" stroke="#1a1a1a" stroke-width="0.27">Karpas299</text>
<path d="M388 381.9 L388 380.5 Q388 379.5 389 379.5 L461.6 379.5 Q462.6 379.5 462.6 380.5 L462.6 381.9" fill="none" stroke="#111" stroke-width="1" />
<text x="384.4" y="408.87" font-size="7.15" text-anchor="end" textLength="20" lengthAdjust="spacingAndGlyphs" fill="#1a1a1a" stroke="#1a1a1a" stroke-width="0.27">sgRNA:</text>
<text transform="translate(391.8 410.2) rotate(-90)" x="0" y="2.59" font-size="7.2" text-anchor="start" textLength="15.5" lengthAdjust="spacingAndGlyphs" fill="#1a1a1a" stroke="#1a1a1a" stroke-width="0.27">CTRL</text>
<text transform="translate(401.8 410.2) rotate(-90)" x="0" y="2.59" font-size="7.2" text-anchor="start" textLength="23.5" lengthAdjust="spacingAndGlyphs" fill="#1a1a1a" stroke="#1a1a1a" stroke-width="0.27">GRB2 #1</text>
<text transform="translate(414 410.2) rotate(-90)" x="0" y="2.59" font-size="7.2" text-anchor="start" textLength="23.5" lengthAdjust="spacingAndGlyphs" fill="#1a1a1a" stroke="#1a1a1a" stroke-width="0.27">GRB2 #2</text>
<text transform="translate(432.5 410.2) rotate(-90)" x="0" y="2.59" font-size="7.2" text-anchor="start" textLength="15.5" lengthAdjust="spacingAndGlyphs" fill="#1a1a1a" stroke="#1a1a1a" stroke-width="0.27">CTRL</text>
<text transform="translate(444.6 410.2) rotate(-90)" x="0" y="2.59" font-size="7.2" text-anchor="start" textLength="23.5" lengthAdjust="spacingAndGlyphs" fill="#1a1a1a" stroke="#1a1a1a" stroke-width="0.27">SOS1 #1</text>
<text transform="translate(457.2 410.2) rotate(-90)" x="0" y="2.59" font-size="7.2" text-anchor="start" textLength="23.5" lengthAdjust="spacingAndGlyphs" fill="#1a1a1a" stroke="#1a1a1a" stroke-width="0.27">SOS1 #2</text>
<text x="468" y="426.87" font-size="7.15" text-anchor="start" textLength="12.4" lengthAdjust="spacingAndGlyphs" fill="#1a1a1a" stroke="#1a1a1a" stroke-width="0.27">IRF4</text>
<text x="468" y="450.07" font-size="7.15" text-anchor="start" textLength="17.6" lengthAdjust="spacingAndGlyphs" fill="#1a1a1a" stroke="#1a1a1a" stroke-width="0.27">BATF3</text>
<text x="468" y="471.87" font-size="7.15" text-anchor="start" textLength="20.6" lengthAdjust="spacingAndGlyphs" fill="#1a1a1a" stroke="#1a1a1a" stroke-width="0.27">GADPH</text>
<clipPath id="c619"><rect x="384.3" y="413.9" width="37.3" height="18.6"/></clipPath>
<rect x="384.3" y="413.9" width="37.3" height="18.6" fill="#bababa" />
<g clip-path="url(#c619)">
<g filter="url(#b1)">
<rect x="385.7" y="420.7" width="10.2" height="5.2" rx="2.18" fill="#0c0c0c" opacity="1"/>
<ellipse cx="402.8" cy="423.2" rx="4.5" ry="1.7" fill="#0c0c0c" opacity="0.72"/>
<ellipse cx="415.8" cy="422.8" rx="4.7" ry="1.8" fill="#0c0c0c" opacity="0.82"/>
</g></g>
<clipPath id="c627"><rect x="425.8" y="413.9" width="39" height="18.6"/></clipPath>
<rect x="425.8" y="413.9" width="39" height="18.6" fill="#c2c2c2" />
<g clip-path="url(#c627)">
<g filter="url(#b1)">
<ellipse cx="431.7" cy="422.5" rx="4.9" ry="1.4" fill="#0c0c0c" opacity="0.72"/>
<ellipse cx="445" cy="422.6" rx="3.75" ry="1" fill="#0c0c0c" opacity="0.15"/>
<ellipse cx="458.2" cy="422.2" rx="4.3" ry="1.2" fill="#0c0c0c" opacity="0.3"/>
</g></g>
<clipPath id="c635"><rect x="384.3" y="438.5" width="37.3" height="18.6"/></clipPath>
<rect x="384.3" y="438.5" width="37.3" height="18.6" fill="#adadad" />
<g clip-path="url(#c635)">
<g filter="url(#b1)">
<ellipse cx="390.8" cy="446.9" rx="4.6" ry="1.7" fill="#0c0c0c" opacity="0.68"/>
<ellipse cx="402.8" cy="446.9" rx="4.6" ry="1.7" fill="#0c0c0c" opacity="0.68"/>
<ellipse cx="415.8" cy="446.9" rx="4.6" ry="1.7" fill="#0c0c0c" opacity="0.68"/>
</g></g>
<clipPath id="c643"><rect x="425.8" y="438.5" width="39" height="18.6"/></clipPath>
<rect x="425.8" y="438.5" width="39" height="18.6" fill="#878787" />
<g clip-path="url(#c643)">
<g filter="url(#b1)">
<rect x="426.6" y="443.6" width="12" height="7.8" rx="3.28" fill="#0c0c0c" opacity="0.64"/>
<rect x="440.2" y="444.2" width="11.4" height="7.4" rx="3.11" fill="#0c0c0c" opacity="0.6"/>
<rect x="452.5" y="443.6" width="11.4" height="7.8" rx="3.28" fill="#0c0c0c" opacity="0.64"/>
<ellipse cx="445" cy="447.6" rx="21" ry="2.3" fill="#0c0c0c" opacity="0.35"/>
<ellipse cx="445" cy="447.6" rx="21" ry="6" fill="#0c0c0c" opacity="0.1"/>
</g></g>
<clipPath id="c653"><rect x="384.3" y="461.9" width="37.3" height="14.8"/></clipPath>
<rect x="384.3" y="461.9" width="37.3" height="14.8" fill="#c8c8c8" />
<g clip-path="url(#c653)">
<g filter="url(#b1)">
<rect x="385.3" y="464.9" width="10.6" height="6.4" rx="2.69" fill="#0c0c0c" opacity="1"/>
<rect x="397.4" y="465.1" width="11" height="6.4" rx="2.69" fill="#0c0c0c" opacity="1"/>
<rect x="410.3" y="464.6" width="11" height="6.6" rx="2.77" fill="#0c0c0c" opacity="1"/>
<ellipse cx="403" cy="468" rx="17.5" ry="1.1" fill="#0c0c0c" opacity="0.45"/>
<ellipse cx="403" cy="474.8" rx="17" ry="0.8" fill="#0c0c0c" opacity="0.1"/>
</g></g>
<clipPath id="c663"><rect x="425.8" y="461.9" width="39" height="14.8"/></clipPath>
<rect x="425.8" y="461.9" width="39" height="14.8" fill="#c8c8c8" />
<g clip-path="url(#c663)">
<g filter="url(#b1)">
<rect x="426.6" y="465.7" width="11.2" height="5.6" rx="2.35" fill="#0c0c0c" opacity="1"/>
<rect x="439.2" y="466.1" width="11.4" height="5.2" rx="2.18" fill="#0c0c0c" opacity="1"/>
<rect x="452" y="465.7" width="11.8" height="5.6" rx="2.35" fill="#0c0c0c" opacity="1"/>
<ellipse cx="445" cy="468.6" rx="18" ry="1.3" fill="#0c0c0c" opacity="0.6"/>
<ellipse cx="445" cy="474.8" rx="17" ry="0.8" fill="#0c0c0c" opacity="0.1"/>
</g></g>
<text transform="translate(7.9 505.1) scale(0.67 1)" x="0" y="0" font-size="13.67" fill="#151515">F</text>
<text x="67" y="532.38" font-size="6.6" text-anchor="middle" textLength="40" lengthAdjust="spacingAndGlyphs" fill="#1a1a1a" stroke="#1a1a1a" stroke-width="0.27">Cas9 expressed</text>
<text x="67" y="539.58" font-size="6.6" text-anchor="middle" textLength="26.5" lengthAdjust="spacingAndGlyphs" fill="#1a1a1a" stroke="#1a1a1a" stroke-width="0.27">ALCL cells</text>
<circle cx="66.8" cy="548.3" r="3.2" fill="#2a3580" stroke="#8e97c6" stroke-width="0.8"/>
<circle cx="66.1" cy="547.5" r="1.1" fill="#5d6bb5" opacity="0.5"/>
<circle cx="63.6" cy="551" r="3.2" fill="#2a3580" stroke="#8e97c6" stroke-width="0.8"/>
<circle cx="62.9" cy="550.2" r="1.1" fill="#5d6bb5" opacity="0.5"/>
<circle cx="71.4" cy="552.3" r="3.2" fill="#2a3580" stroke="#8e97c6" stroke-width="0.8"/>
<circle cx="70.7" cy="551.5" r="1.1" fill="#5d6bb5" opacity="0.5"/>
<circle cx="68.3" cy="555" r="3.2" fill="#2a3580" stroke="#8e97c6" stroke-width="0.8"/>
<circle cx="67.6" cy="554.2" r="1.1" fill="#5d6bb5" opacity="0.5"/>
<circle cx="64.5" cy="557.3" r="3.2" fill="#2a3580" stroke="#8e97c6" stroke-width="0.8"/>
<circle cx="63.8" cy="556.5" r="1.1" fill="#5d6bb5" opacity="0.5"/>
<circle cx="73.7" cy="558.5" r="3.2" fill="#2a3580" stroke="#8e97c6" stroke-width="0.8"/>
<circle cx="73" cy="557.7" r="1.1" fill="#5d6bb5" opacity="0.5"/>
<circle cx="69.4" cy="561" r="3.2" fill="#2a3580" stroke="#8e97c6" stroke-width="0.8"/>
<circle cx="68.7" cy="560.2" r="1.1" fill="#5d6bb5" opacity="0.5"/>
<circle cx="63.6" cy="562.9" r="3.2" fill="#2a3580" stroke="#8e97c6" stroke-width="0.8"/>
<circle cx="62.9" cy="562.1" r="1.1" fill="#5d6bb5" opacity="0.5"/>
<line x1="66.8" y1="567" x2="66.8" y2="606" stroke="#9c2036" stroke-width="0.9" stroke-linecap="butt"/>
<path d="M66.8 588.2 L64.96 584.29 L68.64 584.29 Z" fill="#9c2036" stroke="#9c2036" stroke-width="0.3" />
<path d="M66.8 608.2 L64.96 604.29 L68.64 604.29 Z" fill="#9c2036" stroke="#9c2036" stroke-width="0.3" />
<text x="55" y="574.78" font-size="6.6" text-anchor="middle" textLength="13" lengthAdjust="spacingAndGlyphs" fill="#1a1a1a" stroke="#1a1a1a" stroke-width="0.27">IRF4</text>
<text x="54.8" y="582.28" font-size="6.6" text-anchor="middle" textLength="15.67" lengthAdjust="spacingAndGlyphs" fill="#1a1a1a" stroke="#1a1a1a" stroke-width="0.27">cDNA</text>
<circle cx="78.3" cy="574.7" r="8.1" fill="none" stroke="#e2cfc6" stroke-width="1.5" stroke-dasharray="1.0 0.8"/>
<circle cx="78.3" cy="574.7" r="6.6" fill="#f1f1f4" stroke="#aab3c6" stroke-width="0.9"/>
<circle cx="78.3" cy="574.7" r="5.0" fill="#6b9c62" stroke="#444c56" stroke-width="0.9"/>
<path d="M75.7 573.9 q1.6 -2.8 3.4 -0.4 t-1.8 2.8 t2.6 1.6 M80.3 571.9 q-2.0 1.0 -0.8 3.0" fill="none" stroke="#d6384c" stroke-width="1.3" />
<text x="55" y="599.18" font-size="6.6" text-anchor="middle" textLength="15.67" lengthAdjust="spacingAndGlyphs" fill="#1a1a1a" stroke="#1a1a1a" stroke-width="0.27">select</text>
<circle cx="66.8" cy="613.5" r="3.2" fill="#2a3580" stroke="#8e97c6" stroke-width="0.8"/>
<circle cx="66.1" cy="612.7" r="1.1" fill="#5d6bb5" opacity="0.5"/>
<circle cx="63.6" cy="616.2" r="3.2" fill="#2a3580" stroke="#8e97c6" stroke-width="0.8"/>
<circle cx="62.9" cy="615.4" r="1.1" fill="#5d6bb5" opacity="0.5"/>
<circle cx="71.4" cy="617.5" r="3.2" fill="#2a3580" stroke="#8e97c6" stroke-width="0.8"/>
<circle cx="70.7" cy="616.7" r="1.1" fill="#5d6bb5" opacity="0.5"/>
<circle cx="68.3" cy="620.2" r="3.2" fill="#2a3580" stroke="#8e97c6" stroke-width="0.8"/>
<circle cx="67.6" cy="619.4" r="1.1" fill="#5d6bb5" opacity="0.5"/>
<circle cx="64.5" cy="622.5" r="3.2" fill="#2a3580" stroke="#8e97c6" stroke-width="0.8"/>
<circle cx="63.8" cy="621.7" r="1.1" fill="#5d6bb5" opacity="0.5"/>
<circle cx="73.7" cy="623.7" r="3.2" fill="#2a3580" stroke="#8e97c6" stroke-width="0.8"/>
<circle cx="73" cy="622.9" r="1.1" fill="#5d6bb5" opacity="0.5"/>
<circle cx="69.4" cy="626.2" r="3.2" fill="#2a3580" stroke="#8e97c6" stroke-width="0.8"/>
<circle cx="68.7" cy="625.4" r="1.1" fill="#5d6bb5" opacity="0.5"/>
<circle cx="63.6" cy="628.1" r="3.2" fill="#2a3580" stroke="#8e97c6" stroke-width="0.8"/>
<circle cx="62.9" cy="627.3" r="1.1" fill="#5d6bb5" opacity="0.5"/>
<path d="M66.8 652.6 L64.96 648.69 L68.64 648.69 Z" fill="#9c2036" stroke="#9c2036" stroke-width="0.3" />
<line x1="66.8" y1="632.4" x2="66.8" y2="648.69" stroke="#9c2036" stroke-width="0.9" stroke-linecap="butt"/>
<text x="47.2" y="639.38" font-size="6.6" text-anchor="middle" textLength="19.01" lengthAdjust="spacingAndGlyphs" fill="#1a1a1a" stroke="#1a1a1a" stroke-width="0.27">sgRNA</text>
<text x="46" y="646.78" font-size="6.6" text-anchor="middle" textLength="32" lengthAdjust="spacingAndGlyphs" fill="#1a1a1a" stroke="#1a1a1a" stroke-width="0.27">(GFP vector)</text>
<circle cx="78.5" cy="641.7" r="8.1" fill="none" stroke="#e2cfc6" stroke-width="1.5" stroke-dasharray="1.0 0.8"/>
<circle cx="78.5" cy="641.7" r="6.6" fill="#f1f1f4" stroke="#aab3c6" stroke-width="0.9"/>
<circle cx="78.5" cy="641.7" r="5.0" fill="#6b9c62" stroke="#444c56" stroke-width="0.9"/>
<path d="M75.9 640.9 q1.6 -2.8 3.4 -0.4 t-1.8 2.8 t2.6 1.6 M80.5 638.9 q-2.0 1.0 -0.8 3.0" fill="none" stroke="#d6384c" stroke-width="1.3" />
<path d="M114 643.2 L110.09 645.04 L110.09 641.36 Z" fill="#9c2036" stroke="#9c2036" stroke-width="0.3" />
<line x1="87.4" y1="643.2" x2="110.09" y2="643.2" stroke="#9c2036" stroke-width="0.9" stroke-linecap="butt"/>
<text x="98.4" y="631.28" font-size="6.6" text-anchor="middle" textLength="17.68" lengthAdjust="spacingAndGlyphs" fill="#1a1a1a" stroke="#1a1a1a" stroke-width="0.27">induce</text>
<text x="98.4" y="638.78" font-size="6.6" text-anchor="middle" textLength="19.01" lengthAdjust="spacingAndGlyphs" fill="#1a1a1a" stroke="#1a1a1a" stroke-width="0.27">sgRNA</text>
<circle cx="124.8" cy="635.3" r="3.3" fill="#86c25e" stroke="#3c4a40" stroke-width="0.8"/>
<circle cx="124.1" cy="634.5" r="1.1" fill="#c9ecaa" opacity="0.5"/>
<circle cx="120.4" cy="638.4" r="3.3" fill="#86c25e" stroke="#3c4a40" stroke-width="0.8"/>
<circle cx="119.7" cy="637.6" r="1.1" fill="#c9ecaa" opacity="0.5"/>
<circle cx="129.4" cy="638.8" r="3.3" fill="#86c25e" stroke="#3c4a40" stroke-width="0.8"/>
<circle cx="128.7" cy="638" r="1.1" fill="#c9ecaa" opacity="0.5"/>
<circle cx="120.4" cy="645.3" r="3.3" fill="#86c25e" stroke="#3c4a40" stroke-width="0.8"/>
<circle cx="119.7" cy="644.5" r="1.1" fill="#c9ecaa" opacity="0.5"/>
<circle cx="130" cy="645.4" r="3.3" fill="#86c25e" stroke="#3c4a40" stroke-width="0.8"/>
<circle cx="129.3" cy="644.6" r="1.1" fill="#c9ecaa" opacity="0.5"/>
<circle cx="125.6" cy="641.9" r="3.3" fill="#2a3580" stroke="#3c4a60" stroke-width="0.8"/>
<circle cx="124.9" cy="641.1" r="1.1" fill="#5d6bb5" opacity="0.5"/>
<circle cx="120.8" cy="651" r="3.3" fill="#86c25e" stroke="#3c4a40" stroke-width="0.8"/>
<circle cx="120.1" cy="650.2" r="1.1" fill="#c9ecaa" opacity="0.5"/>
<circle cx="125.4" cy="650.6" r="3.3" fill="#2a3580" stroke="#3c4a60" stroke-width="0.8"/>
<circle cx="124.7" cy="649.8" r="1.1" fill="#5d6bb5" opacity="0.5"/>
<path d="M124.6 608.6 L126.44 612.51 L122.76 612.51 Z" fill="#9c2036" stroke="#9c2036" stroke-width="0.3" />
<line x1="124.6" y1="630.6" x2="124.6" y2="612.51" stroke="#9c2036" stroke-width="0.9" stroke-linecap="butt"/>
<text x="119.6" y="605.38" font-size="6.6" text-anchor="middle" textLength="15.6" lengthAdjust="spacingAndGlyphs" fill="#1a1a1a" stroke="#1a1a1a" stroke-width="0.27">PD-L1</text>
<text x="120.1" y="534.08" font-size="6.6" text-anchor="middle" textLength="46.4" lengthAdjust="spacingAndGlyphs" fill="#1a1a1a" stroke="#1a1a1a" stroke-width="0.27">measure PD-L1 in</text>
<text x="119.9" y="541.48" font-size="6.6" text-anchor="middle" textLength="39.2" lengthAdjust="spacingAndGlyphs" fill="#1a1a1a" stroke="#1a1a1a" stroke-width="0.27">GFP+ and GFP-</text>
<text x="120.1" y="548.88" font-size="6.6" text-anchor="middle" textLength="31.8" lengthAdjust="spacingAndGlyphs" fill="#1a1a1a" stroke="#1a1a1a" stroke-width="0.27">populations</text>
<rect x="100.3" y="553.4" width="40.5" height="40" fill="#fefefd" stroke="#111" stroke-width="1.1" />
<line x1="123.5" y1="555.3" x2="123.5" y2="592.6" stroke="#b4b4b4" stroke-width="0.9" stroke-dasharray="4.6 5.6"/>
<line x1="101.7" y1="577.8" x2="139.8" y2="577.8" stroke="#b4b4b4" stroke-width="0.9" stroke-dasharray="4.6 5.6"/>
<path d="M109.2 562.2 q1.2 -4.2 6.6 -4.8 q5.4 -.2 6.4 4.4 q.8 4.6 -1.6 6.4 q.6 3.6 1.6 5.6 q-2.6 1.6 -5.2 -.8 q-1.2 -1.8 -1.4 -3.4 q-4.4 -.4 -6 -3.4 q-.9 -1.8 -.4 -4z" fill="#2e5a2c" stroke="#23431f" stroke-width="0.5" />
<path d="M117.6 559.6 q3.4 .6 3.8 4.2 q.3 3 -1.2 4.4 l-2 -.4 q.8 -4 -.6 -8.2z" fill="#5d9b45" stroke="none" stroke-width="0.7" />
<path d="M113.6 562.6 q1.8 -1.4 3 .2 q.8 1.8 -.2 3.6 l-.2 2.6 q-1.2 .2 -1.6 -.8 q.4 -1.4 -.4 -2.4 q-1.2 -1.4 -.6 -3.2z" fill="#3f7a35" stroke="none" stroke-width="0.7" />
<ellipse cx="115.2" cy="565" rx="1.0" ry="1.5" fill="#86d860"/>
<path d="M125 584.6 q.8 -3.2 5 -3.4 q4.6 .2 5.6 3.4 q.4 3 -1.8 4.2 q.2 2 -1.2 3.2 q-2.4 .6 -3.6 -.8 q-.4 -1 -.2 -1.8 q-3.2 -.8 -3.8 -3.2z" fill="#6b6b6b" stroke="#3a3a3a" stroke-width="0.6" />
<path d="M128 585 q1.6 -1.6 4 -.8 q1.4 1 .8 2.6 q-1.4 1.4 -2.6 1 q-1.8 -.6 -2.2 -2.8z" fill="#f2f2f2" stroke="none" stroke-width="0.7" />
<path d="M129.6 588.6 l.6 2.6 M131.8 588.2 l.2 2.2" fill="none" stroke="#e0e0e0" stroke-width="0.6" />
<path d="M137 596.7 L133.26 598.46 L133.26 594.94 Z" fill="#111" stroke="#111" stroke-width="0.3" />
<line x1="105.1" y1="596.7" x2="133.26" y2="596.7" stroke="#111" stroke-width="1.1" stroke-linecap="butt"/>
<path d="M143.7 558.4 L145.46 562.14 L141.94 562.14 Z" fill="#111" stroke="#111" stroke-width="0.3" />
<line x1="143.7" y1="591" x2="143.7" y2="562.14" stroke="#111" stroke-width="1" stroke-linecap="butt"/>
<text x="152.4" y="578.28" font-size="6.6" text-anchor="middle" textLength="10.6" lengthAdjust="spacingAndGlyphs" fill="#1a1a1a" stroke="#1a1a1a" stroke-width="0.27">GFP</text>
<line x1="200.3" y1="496.5" x2="200.3" y2="660.8" stroke="#111" stroke-width="1.1" stroke-linecap="butt"/>
<line x1="199.8" y1="660.3" x2="292.6" y2="660.3" stroke="#111" stroke-width="1.1" stroke-linecap="butt"/>
<line x1="197.1" y1="660.3" x2="200.3" y2="660.3" stroke="#111" stroke-width="0.95" stroke-linecap="butt"/>
<text x="193.9" y="662.68" font-size="6.6" text-anchor="end" textLength="3.47" lengthAdjust="spacingAndGlyphs" fill="#1a1a1a" stroke="#1a1a1a" stroke-width="0.27">0</text>
<line x1="197.1" y1="633.3" x2="200.3" y2="633.3" stroke="#111" stroke-width="0.95" stroke-linecap="butt"/>
<text x="193.9" y="635.68" font-size="6.6" text-anchor="end" textLength="6.94" lengthAdjust="spacingAndGlyphs" fill="#1a1a1a" stroke="#1a1a1a" stroke-width="0.27">20</text>
<line x1="197.1" y1="606.3" x2="200.3" y2="606.3" stroke="#111" stroke-width="0.95" stroke-linecap="butt"/>
<text x="193.9" y="608.68" font-size="6.6" text-anchor="end" textLength="6.94" lengthAdjust="spacingAndGlyphs" fill="#1a1a1a" stroke="#1a1a1a" stroke-width="0.27">40</text>
<line x1="197.1" y1="579.3" x2="200.3" y2="579.3" stroke="#111" stroke-width="0.95" stroke-linecap="butt"/>
<text x="193.9" y="581.68" font-size="6.6" text-anchor="end" textLength="6.94" lengthAdjust="spacingAndGlyphs" fill="#1a1a1a" stroke="#1a1a1a" stroke-width="0.27">60</text>
<line x1="197.1" y1="552.3" x2="200.3" y2="552.3" stroke="#111" stroke-width="0.95" stroke-linecap="butt"/>
<text x="193.9" y="554.68" font-size="6.6" text-anchor="end" textLength="6.94" lengthAdjust="spacingAndGlyphs" fill="#1a1a1a" stroke="#1a1a1a" stroke-width="0.27">80</text>
<line x1="197.1" y1="525.3" x2="200.3" y2="525.3" stroke="#111" stroke-width="0.95" stroke-linecap="butt"/>
<text x="193.9" y="527.68" font-size="6.6" text-anchor="end" textLength="10.41" lengthAdjust="spacingAndGlyphs" fill="#1a1a1a" stroke="#1a1a1a" stroke-width="0.27">100</text>
<line x1="197.1" y1="498.3" x2="200.3" y2="498.3" stroke="#111" stroke-width="0.95" stroke-linecap="butt"/>
<text x="193.9" y="500.68" font-size="6.6" text-anchor="end" textLength="10.41" lengthAdjust="spacingAndGlyphs" fill="#1a1a1a" stroke="#1a1a1a" stroke-width="0.27">120</text>
<line x1="200.3" y1="660.3" x2="200.3" y2="663.3" stroke="#111" stroke-width="0.95" stroke-linecap="butt"/>
<line x1="213.25" y1="660.3" x2="213.25" y2="663.3" stroke="#111" stroke-width="0.95" stroke-linecap="butt"/>
<line x1="226.2" y1="660.3" x2="226.2" y2="663.3" stroke="#111" stroke-width="0.95" stroke-linecap="butt"/>
<line x1="239.15" y1="660.3" x2="239.15" y2="663.3" stroke="#111" stroke-width="0.95" stroke-linecap="butt"/>
<line x1="252.1" y1="660.3" x2="252.1" y2="663.3" stroke="#111" stroke-width="0.95" stroke-linecap="butt"/>
<line x1="265.05" y1="660.3" x2="265.05" y2="663.3" stroke="#111" stroke-width="0.95" stroke-linecap="butt"/>
<line x1="278" y1="660.3" x2="278" y2="663.3" stroke="#111" stroke-width="0.95" stroke-linecap="butt"/>
<line x1="290.95" y1="660.3" x2="290.95" y2="663.3" stroke="#111" stroke-width="0.95" stroke-linecap="butt"/>
<line x1="204.7" y1="525.3" x2="204.7" y2="524.62" stroke="#151515" stroke-width="0.9" stroke-linecap="butt"/>
<line x1="203.2" y1="524.62" x2="206.2" y2="524.62" stroke="#151515" stroke-width="1" stroke-linecap="butt"/>
<rect x="202.2" y="525.3" width="5" height="134.5" fill="#6a6d7a" />
<rect x="202.45" y="525.55" width="4.5" height="134.25" fill="none" stroke="#555866" stroke-width="0.5" opacity="0.7"/>
<line x1="209.8" y1="525.3" x2="209.8" y2="523.95" stroke="#151515" stroke-width="0.9" stroke-linecap="butt"/>
<line x1="208.3" y1="523.95" x2="211.3" y2="523.95" stroke="#151515" stroke-width="1" stroke-linecap="butt"/>
<rect x="207.2" y="525.3" width="5.2" height="134.5" fill="#a3304a" />
<rect x="207.45" y="525.55" width="4.7" height="134.25" fill="none" stroke="#8d2840" stroke-width="0.5" opacity="0.7"/>
<line x1="217.65" y1="571.2" x2="217.65" y2="570.52" stroke="#151515" stroke-width="0.9" stroke-linecap="butt"/>
<line x1="216.15" y1="570.52" x2="219.15" y2="570.52" stroke="#151515" stroke-width="1" stroke-linecap="butt"/>
<rect x="215.15" y="571.2" width="5" height="88.6" fill="#6a6d7a" />
<rect x="215.4" y="571.45" width="4.5" height="88.35" fill="none" stroke="#555866" stroke-width="0.5" opacity="0.7"/>
<line x1="222.75" y1="554.32" x2="222.75" y2="551.62" stroke="#151515" stroke-width="0.9" stroke-linecap="butt"/>
<line x1="221.25" y1="551.62" x2="224.25" y2="551.62" stroke="#151515" stroke-width="1" stroke-linecap="butt"/>
<rect x="220.15" y="554.32" width="5.2" height="105.48" fill="#a3304a" />
<rect x="220.4" y="554.57" width="4.7" height="105.23" fill="none" stroke="#8d2840" stroke-width="0.5" opacity="0.7"/>
<path d="M217.65 569.73 L217.65 549.8 Q217.65 548.8 218.65 548.8 L221.75 548.8 Q222.75 548.8 222.75 549.8 L222.75 550.83" fill="none" stroke="#111" stroke-width="0.75" />
<text x="220.2" y="549.78" font-size="6.6" text-anchor="middle" textLength="4.67" lengthAdjust="spacingAndGlyphs" fill="#1a1a1a" stroke="#1a1a1a" stroke-width="0.27">**</text>
<line x1="230.6" y1="569.85" x2="230.6" y2="569.17" stroke="#151515" stroke-width="0.9" stroke-linecap="butt"/>
<line x1="229.1" y1="569.17" x2="232.1" y2="569.17" stroke="#151515" stroke-width="1" stroke-linecap="butt"/>
<rect x="228.1" y="569.85" width="5" height="89.95" fill="#6a6d7a" />
<rect x="228.35" y="570.1" width="4.5" height="89.7" fill="none" stroke="#555866" stroke-width="0.5" opacity="0.7"/>
<line x1="235.7" y1="557.7" x2="235.7" y2="552.97" stroke="#151515" stroke-width="0.9" stroke-linecap="butt"/>
<line x1="234.2" y1="552.97" x2="237.2" y2="552.97" stroke="#151515" stroke-width="1" stroke-linecap="butt"/>
<rect x="233.1" y="557.7" width="5.2" height="102.1" fill="#a3304a" />
<rect x="233.35" y="557.95" width="4.7" height="101.85" fill="none" stroke="#8d2840" stroke-width="0.5" opacity="0.7"/>
<path d="M230.6 568.38 L230.6 549.3 Q230.6 548.3 231.6 548.3 L234.7 548.3 Q235.7 548.3 235.7 549.3 L235.7 552.17" fill="none" stroke="#111" stroke-width="0.75" />
<text x="233.15" y="549.28" font-size="6.6" text-anchor="middle" textLength="2.33" lengthAdjust="spacingAndGlyphs" fill="#1a1a1a" stroke="#1a1a1a" stroke-width="0.27">*</text>
<line x1="243.55" y1="568.5" x2="243.55" y2="567.15" stroke="#151515" stroke-width="0.9" stroke-linecap="butt"/>
<line x1="242.05" y1="567.15" x2="245.05" y2="567.15" stroke="#151515" stroke-width="1" stroke-linecap="butt"/>
<rect x="241.05" y="568.5" width="5" height="91.3" fill="#6a6d7a" />
<rect x="241.3" y="568.75" width="4.5" height="91.05" fill="none" stroke="#555866" stroke-width="0.5" opacity="0.7"/>
<line x1="248.65" y1="555" x2="248.65" y2="548.25" stroke="#151515" stroke-width="0.9" stroke-linecap="butt"/>
<line x1="247.15" y1="548.25" x2="250.15" y2="548.25" stroke="#151515" stroke-width="1" stroke-linecap="butt"/>
<rect x="246.05" y="555" width="5.2" height="104.8" fill="#a3304a" />
<rect x="246.3" y="555.25" width="4.7" height="104.55" fill="none" stroke="#8d2840" stroke-width="0.5" opacity="0.7"/>
<path d="M243.55 566.35 L243.55 545.5 Q243.55 544.5 244.55 544.5 L247.65 544.5 Q248.65 544.5 248.65 545.5 L248.65 547.45" fill="none" stroke="#111" stroke-width="0.75" />
<text x="246.1" y="545.48" font-size="6.6" text-anchor="middle" textLength="2.33" lengthAdjust="spacingAndGlyphs" fill="#1a1a1a" stroke="#1a1a1a" stroke-width="0.27">*</text>
<line x1="256.5" y1="594.15" x2="256.5" y2="590.77" stroke="#151515" stroke-width="0.9" stroke-linecap="butt"/>
<line x1="255" y1="590.77" x2="258" y2="590.77" stroke="#151515" stroke-width="1" stroke-linecap="butt"/>
<rect x="254" y="594.15" width="5" height="65.65" fill="#6a6d7a" />
<rect x="254.25" y="594.4" width="4.5" height="65.4" fill="none" stroke="#555866" stroke-width="0.5" opacity="0.7"/>
<line x1="261.6" y1="562.42" x2="261.6" y2="558.38" stroke="#151515" stroke-width="0.9" stroke-linecap="butt"/>
<line x1="260.1" y1="558.38" x2="263.1" y2="558.38" stroke="#151515" stroke-width="1" stroke-linecap="butt"/>
<rect x="259" y="562.42" width="5.2" height="97.38" fill="#a3304a" />
<rect x="259.25" y="562.67" width="4.7" height="97.12" fill="none" stroke="#8d2840" stroke-width="0.5" opacity="0.7"/>
<path d="M256.5 589.98 L256.5 556.5 Q256.5 555.5 257.5 555.5 L260.6 555.5 Q261.6 555.5 261.6 556.5 L261.6 557.58" fill="none" stroke="#111" stroke-width="0.75" />
<text x="259.05" y="556.48" font-size="6.6" text-anchor="middle" textLength="4.67" lengthAdjust="spacingAndGlyphs" fill="#1a1a1a" stroke="#1a1a1a" stroke-width="0.27">**</text>
<line x1="269.45" y1="567.15" x2="269.45" y2="565.8" stroke="#151515" stroke-width="0.9" stroke-linecap="butt"/>
<line x1="267.95" y1="565.8" x2="270.95" y2="565.8" stroke="#151515" stroke-width="1" stroke-linecap="butt"/>
<rect x="266.95" y="567.15" width="5" height="92.65" fill="#6a6d7a" />
<rect x="267.2" y="567.4" width="4.5" height="92.4" fill="none" stroke="#555866" stroke-width="0.5" opacity="0.7"/>
<line x1="274.55" y1="579.97" x2="274.55" y2="579.3" stroke="#151515" stroke-width="0.9" stroke-linecap="butt"/>
<line x1="273.05" y1="579.3" x2="276.05" y2="579.3" stroke="#151515" stroke-width="1" stroke-linecap="butt"/>
<rect x="271.95" y="579.97" width="5.2" height="79.83" fill="#a3304a" />
<rect x="272.2" y="580.22" width="4.7" height="79.58" fill="none" stroke="#8d2840" stroke-width="0.5" opacity="0.7"/>
<path d="M269.45 565 L269.45 563.5 Q269.45 562.5 270.45 562.5 L273.55 562.5 Q274.55 562.5 274.55 563.5 L274.55 578.5" fill="none" stroke="#111" stroke-width="0.75" />
<text x="272" y="563.48" font-size="6.6" text-anchor="middle" textLength="4.67" lengthAdjust="spacingAndGlyphs" fill="#1a1a1a" stroke="#1a1a1a" stroke-width="0.27">**</text>
<line x1="282.4" y1="572.55" x2="282.4" y2="571.2" stroke="#151515" stroke-width="0.9" stroke-linecap="butt"/>
<line x1="280.9" y1="571.2" x2="283.9" y2="571.2" stroke="#151515" stroke-width="1" stroke-linecap="butt"/>
<rect x="279.9" y="572.55" width="5" height="87.25" fill="#6a6d7a" />
<rect x="280.15" y="572.8" width="4.5" height="87" fill="none" stroke="#555866" stroke-width="0.5" opacity="0.7"/>
<line x1="287.5" y1="573.22" x2="287.5" y2="571.88" stroke="#151515" stroke-width="0.9" stroke-linecap="butt"/>
<line x1="286" y1="571.88" x2="289" y2="571.88" stroke="#151515" stroke-width="1" stroke-linecap="butt"/>
<rect x="284.9" y="573.22" width="5.2" height="86.58" fill="#a3304a" />
<rect x="285.15" y="573.47" width="4.7" height="86.33" fill="none" stroke="#8d2840" stroke-width="0.5" opacity="0.7"/>
<path d="M282.4 570.4 L282.4 569 Q282.4 568 283.4 568 L286.5 568 Q287.5 568 287.5 569 L287.5 571.08" fill="none" stroke="#111" stroke-width="0.75" />
<text x="284.95" y="567.14" font-size="5.94" text-anchor="middle" textLength="7.2" lengthAdjust="spacingAndGlyphs" fill="#1a1a1a" stroke="#1a1a1a" stroke-width="0.27">n.s</text>
<line x1="306.5" y1="496.5" x2="306.5" y2="660.8" stroke="#111" stroke-width="1.1" stroke-linecap="butt"/>
<line x1="306" y1="660.3" x2="400" y2="660.3" stroke="#111" stroke-width="1.1" stroke-linecap="butt"/>
<line x1="303.3" y1="660.3" x2="306.5" y2="660.3" stroke="#111" stroke-width="0.95" stroke-linecap="butt"/>
<line x1="303.3" y1="633.3" x2="306.5" y2="633.3" stroke="#111" stroke-width="0.95" stroke-linecap="butt"/>
<line x1="303.3" y1="606.3" x2="306.5" y2="606.3" stroke="#111" stroke-width="0.95" stroke-linecap="butt"/>
<line x1="303.3" y1="579.3" x2="306.5" y2="579.3" stroke="#111" stroke-width="0.95" stroke-linecap="butt"/>
<line x1="303.3" y1="552.3" x2="306.5" y2="552.3" stroke="#111" stroke-width="0.95" stroke-linecap="butt"/>
<line x1="303.3" y1="525.3" x2="306.5" y2="525.3" stroke="#111" stroke-width="0.95" stroke-linecap="butt"/>
<line x1="303.3" y1="498.3" x2="306.5" y2="498.3" stroke="#111" stroke-width="0.95" stroke-linecap="butt"/>
<line x1="306.5" y1="660.3" x2="306.5" y2="663.3" stroke="#111" stroke-width="0.95" stroke-linecap="butt"/>
<line x1="319.45" y1="660.3" x2="319.45" y2="663.3" stroke="#111" stroke-width="0.95" stroke-linecap="butt"/>
<line x1="332.4" y1="660.3" x2="332.4" y2="663.3" stroke="#111" stroke-width="0.95" stroke-linecap="butt"/>
<line x1="345.35" y1="660.3" x2="345.35" y2="663.3" stroke="#111" stroke-width="0.95" stroke-linecap="butt"/>
<line x1="358.3" y1="660.3" x2="358.3" y2="663.3" stroke="#111" stroke-width="0.95" stroke-linecap="butt"/>
<line x1="371.25" y1="660.3" x2="371.25" y2="663.3" stroke="#111" stroke-width="0.95" stroke-linecap="butt"/>
<line x1="384.2" y1="660.3" x2="384.2" y2="663.3" stroke="#111" stroke-width="0.95" stroke-linecap="butt"/>
<line x1="397.15" y1="660.3" x2="397.15" y2="663.3" stroke="#111" stroke-width="0.95" stroke-linecap="butt"/>
<line x1="310.9" y1="525.3" x2="310.9" y2="524.62" stroke="#151515" stroke-width="0.9" stroke-linecap="butt"/>
<line x1="309.4" y1="524.62" x2="312.4" y2="524.62" stroke="#151515" stroke-width="1" stroke-linecap="butt"/>
<rect x="308.4" y="525.3" width="5" height="134.5" fill="#6a6d7a" />
<rect x="308.65" y="525.55" width="4.5" height="134.25" fill="none" stroke="#555866" stroke-width="0.5" opacity="0.7"/>
<line x1="316" y1="525.3" x2="316" y2="523.95" stroke="#151515" stroke-width="0.9" stroke-linecap="butt"/>
<line x1="314.5" y1="523.95" x2="317.5" y2="523.95" stroke="#151515" stroke-width="1" stroke-linecap="butt"/>
<rect x="313.4" y="525.3" width="5.2" height="134.5" fill="#a3304a" />
<rect x="313.65" y="525.55" width="4.7" height="134.25" fill="none" stroke="#8d2840" stroke-width="0.5" opacity="0.7"/>
<line x1="323.85" y1="621.82" x2="323.85" y2="620.47" stroke="#151515" stroke-width="0.9" stroke-linecap="butt"/>
<line x1="322.35" y1="620.47" x2="325.35" y2="620.47" stroke="#151515" stroke-width="1" stroke-linecap="butt"/>
<rect x="321.35" y="621.82" width="5" height="37.98" fill="#6a6d7a" />
<rect x="321.6" y="622.07" width="4.5" height="37.73" fill="none" stroke="#555866" stroke-width="0.5" opacity="0.7"/>
<line x1="328.95" y1="601.3" x2="328.95" y2="598.6" stroke="#151515" stroke-width="0.9" stroke-linecap="butt"/>
<line x1="327.45" y1="598.6" x2="330.45" y2="598.6" stroke="#151515" stroke-width="1" stroke-linecap="butt"/>
<rect x="326.35" y="601.3" width="5.2" height="58.5" fill="#a3304a" />
<rect x="326.6" y="601.55" width="4.7" height="58.25" fill="none" stroke="#8d2840" stroke-width="0.5" opacity="0.7"/>
<path d="M323.85 619.67 L323.85 596 Q323.85 595 324.85 595 L327.95 595 Q328.95 595 328.95 596 L328.95 597.8" fill="none" stroke="#111" stroke-width="0.75" />
<text x="326.4" y="595.98" font-size="6.6" text-anchor="middle" textLength="2.33" lengthAdjust="spacingAndGlyphs" fill="#1a1a1a" stroke="#1a1a1a" stroke-width="0.27">*</text>
<line x1="336.8" y1="614.53" x2="336.8" y2="613.18" stroke="#151515" stroke-width="0.9" stroke-linecap="butt"/>
<line x1="335.3" y1="613.18" x2="338.3" y2="613.18" stroke="#151515" stroke-width="1" stroke-linecap="butt"/>
<rect x="334.3" y="614.53" width="5" height="45.26" fill="#6a6d7a" />
<rect x="334.55" y="614.78" width="4.5" height="45.01" fill="none" stroke="#555866" stroke-width="0.5" opacity="0.7"/>
<line x1="341.9" y1="585.78" x2="341.9" y2="582.4" stroke="#151515" stroke-width="0.9" stroke-linecap="butt"/>
<line x1="340.4" y1="582.4" x2="343.4" y2="582.4" stroke="#151515" stroke-width="1" stroke-linecap="butt"/>
<rect x="339.3" y="585.78" width="5.2" height="74.02" fill="#a3304a" />
<rect x="339.55" y="586.03" width="4.7" height="73.77" fill="none" stroke="#8d2840" stroke-width="0.5" opacity="0.7"/>
<path d="M336.8 612.38 L336.8 581 Q336.8 580 337.8 580 L340.9 580 Q341.9 580 341.9 581 L341.9 581.61" fill="none" stroke="#111" stroke-width="0.75" />
<text x="339.35" y="580.98" font-size="6.6" text-anchor="middle" textLength="4.67" lengthAdjust="spacingAndGlyphs" fill="#1a1a1a" stroke="#1a1a1a" stroke-width="0.27">**</text>
<line x1="349.75" y1="611.7" x2="349.75" y2="610.08" stroke="#151515" stroke-width="0.9" stroke-linecap="butt"/>
<line x1="348.25" y1="610.08" x2="351.25" y2="610.08" stroke="#151515" stroke-width="1" stroke-linecap="butt"/>
<rect x="347.25" y="611.7" width="5" height="48.1" fill="#6a6d7a" />
<rect x="347.5" y="611.95" width="4.5" height="47.85" fill="none" stroke="#555866" stroke-width="0.5" opacity="0.7"/>
<line x1="354.85" y1="588.75" x2="354.85" y2="585.38" stroke="#151515" stroke-width="0.9" stroke-linecap="butt"/>
<line x1="353.35" y1="585.38" x2="356.35" y2="585.38" stroke="#151515" stroke-width="1" stroke-linecap="butt"/>
<rect x="352.25" y="588.75" width="5.2" height="71.05" fill="#a3304a" />
<rect x="352.5" y="589" width="4.7" height="70.8" fill="none" stroke="#8d2840" stroke-width="0.5" opacity="0.7"/>
<path d="M349.75 609.28 L349.75 584.8 Q349.75 583.8 350.75 583.8 L353.85 583.8 Q354.85 583.8 354.85 584.8 L354.85 584.8" fill="none" stroke="#111" stroke-width="0.75" />
<text x="352.3" y="584.78" font-size="6.6" text-anchor="middle" textLength="4.67" lengthAdjust="spacingAndGlyphs" fill="#1a1a1a" stroke="#1a1a1a" stroke-width="0.27">**</text>
<line x1="362.7" y1="620.74" x2="362.7" y2="619.93" stroke="#151515" stroke-width="0.9" stroke-linecap="butt"/>
<line x1="361.2" y1="619.93" x2="364.2" y2="619.93" stroke="#151515" stroke-width="1" stroke-linecap="butt"/>
<rect x="360.2" y="620.74" width="5" height="39.06" fill="#6a6d7a" />
<rect x="360.45" y="620.99" width="4.5" height="38.81" fill="none" stroke="#555866" stroke-width="0.5" opacity="0.7"/>
<line x1="367.8" y1="593.34" x2="367.8" y2="589.96" stroke="#151515" stroke-width="0.9" stroke-linecap="butt"/>
<line x1="366.3" y1="589.96" x2="369.3" y2="589.96" stroke="#151515" stroke-width="1" stroke-linecap="butt"/>
<rect x="365.2" y="593.34" width="5.2" height="66.46" fill="#a3304a" />
<rect x="365.45" y="593.59" width="4.7" height="66.21" fill="none" stroke="#8d2840" stroke-width="0.5" opacity="0.7"/>
<path d="M362.7 619.13 L362.7 588.5 Q362.7 587.5 363.7 587.5 L366.8 587.5 Q367.8 587.5 367.8 588.5 L367.8 589.16" fill="none" stroke="#111" stroke-width="0.75" />
<text x="365.25" y="588.48" font-size="6.6" text-anchor="middle" textLength="2.33" lengthAdjust="spacingAndGlyphs" fill="#1a1a1a" stroke="#1a1a1a" stroke-width="0.27">*</text>
<line x1="375.65" y1="610.75" x2="375.65" y2="608.73" stroke="#151515" stroke-width="0.9" stroke-linecap="butt"/>
<line x1="374.15" y1="608.73" x2="377.15" y2="608.73" stroke="#151515" stroke-width="1" stroke-linecap="butt"/>
<rect x="373.15" y="610.75" width="5" height="49.04" fill="#6a6d7a" />
<rect x="373.4" y="611" width="4.5" height="48.79" fill="none" stroke="#555866" stroke-width="0.5" opacity="0.7"/>
<line x1="380.75" y1="614.26" x2="380.75" y2="613.18" stroke="#151515" stroke-width="0.9" stroke-linecap="butt"/>
<line x1="379.25" y1="613.18" x2="382.25" y2="613.18" stroke="#151515" stroke-width="1" stroke-linecap="butt"/>
<rect x="378.15" y="614.26" width="5.2" height="45.53" fill="#a3304a" />
<rect x="378.4" y="614.51" width="4.7" height="45.28" fill="none" stroke="#8d2840" stroke-width="0.5" opacity="0.7"/>
<path d="M375.65 607.93 L375.65 606.8 Q375.65 605.8 376.65 605.8 L379.75 605.8 Q380.75 605.8 380.75 606.8 L380.75 612.38" fill="none" stroke="#111" stroke-width="0.75" />
<text x="378.2" y="604.94" font-size="5.94" text-anchor="middle" textLength="7.2" lengthAdjust="spacingAndGlyphs" fill="#1a1a1a" stroke="#1a1a1a" stroke-width="0.27">n.s</text>
<line x1="388.6" y1="612.51" x2="388.6" y2="610.89" stroke="#151515" stroke-width="0.9" stroke-linecap="butt"/>
<line x1="387.1" y1="610.89" x2="390.1" y2="610.89" stroke="#151515" stroke-width="1" stroke-linecap="butt"/>
<rect x="386.1" y="612.51" width="5" height="47.29" fill="#6a6d7a" />
<rect x="386.35" y="612.76" width="4.5" height="47.04" fill="none" stroke="#555866" stroke-width="0.5" opacity="0.7"/>
<line x1="393.7" y1="610.35" x2="393.7" y2="607.92" stroke="#151515" stroke-width="0.9" stroke-linecap="butt"/>
<line x1="392.2" y1="607.92" x2="395.2" y2="607.92" stroke="#151515" stroke-width="1" stroke-linecap="butt"/>
<rect x="391.1" y="610.35" width="5.2" height="49.45" fill="#a3304a" />
<rect x="391.35" y="610.6" width="4.7" height="49.2" fill="none" stroke="#8d2840" stroke-width="0.5" opacity="0.7"/>
<path d="M388.6 610.09 L388.6 606.8 Q388.6 605.8 389.6 605.8 L392.7 605.8 Q393.7 605.8 393.7 606.8 L393.7 607.12" fill="none" stroke="#111" stroke-width="0.75" />
<text x="391.15" y="604.94" font-size="5.94" text-anchor="middle" textLength="7.2" lengthAdjust="spacingAndGlyphs" fill="#1a1a1a" stroke="#1a1a1a" stroke-width="0.27">n.s</text>
<text x="247" y="501.38" font-size="6.6" text-anchor="middle" textLength="11.67" lengthAdjust="spacingAndGlyphs" fill="#1a1a1a" stroke="#1a1a1a" stroke-width="0.27">DEL</text>
<text x="353.8" y="501.38" font-size="6.6" text-anchor="middle" textLength="29.5" lengthAdjust="spacingAndGlyphs" fill="#1a1a1a" stroke="#1a1a1a" stroke-width="0.27">Karpas299</text>
<text transform="translate(174.3 577.6) rotate(-90)" x="0" y="3.09" font-size="8.58" text-anchor="middle" textLength="70.5" lengthAdjust="spacingAndGlyphs" fill="#1a1a1a" stroke="#1a1a1a" stroke-width="0.27">Relative PD-L1 MFI</text>
<text x="196.3" y="671.88" font-size="6.6" text-anchor="end" textLength="19.4" lengthAdjust="spacingAndGlyphs" fill="#1a1a1a" stroke="#1a1a1a" stroke-width="0.27">sgRNA:</text>
<text transform="translate(206.8 667) rotate(-90)" x="0" y="2.27" font-size="6.3" text-anchor="end" textLength="11.4" lengthAdjust="spacingAndGlyphs" fill="#1e1e1e" stroke="#1e1e1e" stroke-width="0.2">CTRL</text>
<text transform="translate(219.75 667) rotate(-90)" x="0" y="2.27" font-size="6.3" text-anchor="end" textLength="20" lengthAdjust="spacingAndGlyphs" fill="#1e1e1e" stroke="#1e1e1e" stroke-width="0.2">GRB2 #1</text>
<text transform="translate(232.7 667) rotate(-90)" x="0" y="2.27" font-size="6.3" text-anchor="end" textLength="20" lengthAdjust="spacingAndGlyphs" fill="#1e1e1e" stroke="#1e1e1e" stroke-width="0.2">GRB2 #2</text>
<text transform="translate(245.65 667) rotate(-90)" x="0" y="2.27" font-size="6.3" text-anchor="end" textLength="20" lengthAdjust="spacingAndGlyphs" fill="#1e1e1e" stroke="#1e1e1e" stroke-width="0.2">SOS1 #1</text>
<text transform="translate(258.6 667) rotate(-90)" x="0" y="2.27" font-size="6.3" text-anchor="end" textLength="20" lengthAdjust="spacingAndGlyphs" fill="#1e1e1e" stroke="#1e1e1e" stroke-width="0.2">SOS1 #2</text>
<text transform="translate(271.55 667) rotate(-90)" x="0" y="2.27" font-size="6.3" text-anchor="end" textLength="21.2" lengthAdjust="spacingAndGlyphs" fill="#1e1e1e" stroke="#1e1e1e" stroke-width="0.2">STAT3 #1</text>
<text transform="translate(284.5 667) rotate(-90)" x="0" y="2.27" font-size="6.3" text-anchor="end" textLength="21.2" lengthAdjust="spacingAndGlyphs" fill="#1e1e1e" stroke="#1e1e1e" stroke-width="0.2">STAT3 #2</text>
<text transform="translate(313.7 667) rotate(-90)" x="0" y="2.27" font-size="6.3" text-anchor="end" textLength="11.4" lengthAdjust="spacingAndGlyphs" fill="#1e1e1e" stroke="#1e1e1e" stroke-width="0.2">CTRL</text>
<text transform="translate(326.65 667) rotate(-90)" x="0" y="2.27" font-size="6.3" text-anchor="end" textLength="20" lengthAdjust="spacingAndGlyphs" fill="#1e1e1e" stroke="#1e1e1e" stroke-width="0.2">GRB2 #1</text>
<text transform="translate(339.6 667) rotate(-90)" x="0" y="2.27" font-size="6.3" text-anchor="end" textLength="20" lengthAdjust="spacingAndGlyphs" fill="#1e1e1e" stroke="#1e1e1e" stroke-width="0.2">GRB2 #2</text>
<text transform="translate(352.55 667) rotate(-90)" x="0" y="2.27" font-size="6.3" text-anchor="end" textLength="20" lengthAdjust="spacingAndGlyphs" fill="#1e1e1e" stroke="#1e1e1e" stroke-width="0.2">SOS1 #1</text>
<text transform="translate(365.5 667) rotate(-90)" x="0" y="2.27" font-size="6.3" text-anchor="end" textLength="20" lengthAdjust="spacingAndGlyphs" fill="#1e1e1e" stroke="#1e1e1e" stroke-width="0.2">SOS1 #2</text>
<text transform="translate(378.45 667) rotate(-90)" x="0" y="2.27" font-size="6.3" text-anchor="end" textLength="21.2" lengthAdjust="spacingAndGlyphs" fill="#1e1e1e" stroke="#1e1e1e" stroke-width="0.2">STAT3 #1</text>
<text transform="translate(391.4 667) rotate(-90)" x="0" y="2.27" font-size="6.3" text-anchor="end" textLength="21.2" lengthAdjust="spacingAndGlyphs" fill="#1e1e1e" stroke="#1e1e1e" stroke-width="0.2">STAT3 #2</text>
<text x="375" y="530.14" font-size="5.94" text-anchor="middle" textLength="18.31" lengthAdjust="spacingAndGlyphs" fill="#1a1a1a" stroke="#1a1a1a" stroke-width="0.27">Rescue</text>
<text x="375" y="537.14" font-size="5.94" text-anchor="middle" textLength="23.11" lengthAdjust="spacingAndGlyphs" fill="#1a1a1a" stroke="#1a1a1a" stroke-width="0.27">Construct</text>
<line x1="356.8" y1="539.9" x2="393.8" y2="539.9" stroke="#505050" stroke-width="1.3" stroke-linecap="butt"/>
<rect x="358.5" y="543.2" width="8.3" height="8.3" fill="#6a6d7a" stroke="#555866" stroke-width="0.5" />
<rect x="358.5" y="553.6" width="8.3" height="8.3" fill="#a3304a" stroke="#8d2840" stroke-width="0.5" />
<text x="370" y="549.36" font-size="5.72" text-anchor="start" textLength="12.49" lengthAdjust="spacingAndGlyphs" fill="#4a4a4a" stroke="#4a4a4a" stroke-width="0.27">CTRL</text>
<text x="370" y="559.76" font-size="5.72" text-anchor="start" textLength="19.13" lengthAdjust="spacingAndGlyphs" fill="#4a4a4a" stroke="#4a4a4a" stroke-width="0.27">IRF4 WT</text>
<text transform="translate(417.8 504.97) scale(0.74 1)" x="0" y="0" font-size="13.14" fill="#151515">G</text>
<text x="470.3" y="498.97" font-size="7.15" text-anchor="middle" textLength="11.6" lengthAdjust="spacingAndGlyphs" fill="#1a1a1a" stroke="#1a1a1a" stroke-width="0.27">DEL</text>
<path d="M455 504 L455 502.6 Q455 501.6 456 501.6 L484.2 501.6 Q485.2 501.6 485.2 502.6 L485.2 504" fill="none" stroke="#111" stroke-width="1" />
<text x="453.6" y="531.37" font-size="7.15" text-anchor="end" textLength="20.6" lengthAdjust="spacingAndGlyphs" fill="#1a1a1a" stroke="#1a1a1a" stroke-width="0.27">sgRNA:</text>
<text transform="translate(458.8 531.8) rotate(-90)" x="0" y="2.59" font-size="7.2" text-anchor="start" textLength="14.8" lengthAdjust="spacingAndGlyphs" fill="#1a1a1a" stroke="#1a1a1a" stroke-width="0.27">CTRL</text>
<text transform="translate(470.3 531.8) rotate(-90)" x="0" y="2.59" font-size="7.2" text-anchor="start" textLength="24.7" lengthAdjust="spacingAndGlyphs" fill="#1a1a1a" stroke="#1a1a1a" stroke-width="0.27">STAT3 #1</text>
<text transform="translate(481.2 531.8) rotate(-90)" x="0" y="2.59" font-size="7.2" text-anchor="start" textLength="24.7" lengthAdjust="spacingAndGlyphs" fill="#1a1a1a" stroke="#1a1a1a" stroke-width="0.27">STAT3 #2</text>
<text x="490" y="545.97" font-size="7.15" text-anchor="start" textLength="17.8" lengthAdjust="spacingAndGlyphs" fill="#1a1a1a" stroke="#1a1a1a" stroke-width="0.27">BATF3</text>
<text x="490" y="563.97" font-size="7.15" text-anchor="start" textLength="12.4" lengthAdjust="spacingAndGlyphs" fill="#1a1a1a" stroke="#1a1a1a" stroke-width="0.27">IRF4</text>
<text x="490" y="581.07" font-size="7.15" text-anchor="start" textLength="20.6" lengthAdjust="spacingAndGlyphs" fill="#1a1a1a" stroke="#1a1a1a" stroke-width="0.27">β-Actin</text>
<clipPath id="c979"><rect x="454" y="535.6" width="32.5" height="13.3"/></clipPath>
<rect x="454" y="535.6" width="32.5" height="13.3" fill="#e0e0e0" />
<g clip-path="url(#c979)">
<g filter="url(#b1)">
<ellipse cx="458.6" cy="543.2" rx="3.6" ry="1.7" fill="#0c0c0c" opacity="1"/>
<ellipse cx="469.5" cy="543.5" rx="3.5" ry="1.4" fill="#0c0c0c" opacity="0.6"/>
<ellipse cx="481.1" cy="543.5" rx="3.5" ry="1.4" fill="#0c0c0c" opacity="0.64"/>
</g></g>
<clipPath id="c987"><rect x="454" y="553.1" width="32.5" height="14"/></clipPath>
<rect x="454" y="553.1" width="32.5" height="14" fill="#cbcbcb" />
<g clip-path="url(#c987)">
<g filter="url(#b1)">
<ellipse cx="458.8" cy="559.8" rx="4.4" ry="1.4" fill="#0c0c0c" opacity="0.6"/>
<ellipse cx="469.1" cy="559.4" rx="4.5" ry="1.4" fill="#0c0c0c" opacity="0.66"/>
<ellipse cx="480" cy="559.6" rx="4.5" ry="1.5" fill="#0c0c0c" opacity="0.66"/>
<ellipse cx="470" cy="559.6" rx="17" ry="0.8" fill="#0c0c0c" opacity="0.2"/>
<ellipse cx="470" cy="565" rx="17" ry="2" fill="#0c0c0c" opacity="0.06"/>
</g></g>
<clipPath id="c997"><rect x="454" y="571.4" width="32.5" height="13.2"/></clipPath>
<rect x="454" y="571.4" width="32.5" height="13.2" fill="#c0c0c0" />
<g clip-path="url(#c997)">
<g filter="url(#b1)">
<rect x="454.7" y="575.9" width="9.4" height="3.6" rx="1.51" fill="#0c0c0c" opacity="1"/>
<rect x="465.3" y="575.9" width="9.4" height="3.6" rx="1.51" fill="#0c0c0c" opacity="1"/>
<rect x="475.9" y="575.9" width="9.4" height="3.6" rx="1.51" fill="#0c0c0c" opacity="1"/>
<ellipse cx="470" cy="577.8" rx="17" ry="1" fill="#0c0c0c" opacity="0.7"/>
<ellipse cx="459.4" cy="581.8" rx="3.3" ry="0.75" fill="#0c0c0c" opacity="0.22"/>
<ellipse cx="470" cy="581.8" rx="3.3" ry="0.75" fill="#0c0c0c" opacity="0.22"/>
<ellipse cx="480.6" cy="581.8" rx="3.3" ry="0.75" fill="#0c0c0c" opacity="0.22"/>
</g></g>
<text x="470.2" y="600.87" font-size="7.15" text-anchor="middle" textLength="30.4" lengthAdjust="spacingAndGlyphs" fill="#1a1a1a" stroke="#1a1a1a" stroke-width="0.27">Karpas299</text>
<path d="M455 606.2 L455 604.8 Q455 603.8 456 603.8 L484.8 603.8 Q485.8 603.8 485.8 604.8 L485.8 606.2" fill="none" stroke="#111" stroke-width="1" />
<text x="453.6" y="633.27" font-size="7.15" text-anchor="end" textLength="20.6" lengthAdjust="spacingAndGlyphs" fill="#1a1a1a" stroke="#1a1a1a" stroke-width="0.27">sgRNA:</text>
<text transform="translate(459.2 633.8) rotate(-90)" x="0" y="2.59" font-size="7.2" text-anchor="start" textLength="14.4" lengthAdjust="spacingAndGlyphs" fill="#1a1a1a" stroke="#1a1a1a" stroke-width="0.27">CTRL</text>
<text transform="translate(470 633.8) rotate(-90)" x="0" y="2.59" font-size="7.2" text-anchor="start" textLength="24.6" lengthAdjust="spacingAndGlyphs" fill="#1a1a1a" stroke="#1a1a1a" stroke-width="0.27">STAT3 #1</text>
<text transform="translate(481.5 633.8) rotate(-90)" x="0" y="2.59" font-size="7.2" text-anchor="start" textLength="24.6" lengthAdjust="spacingAndGlyphs" fill="#1a1a1a" stroke="#1a1a1a" stroke-width="0.27">STAT3 #2</text>
<text x="490.4" y="647.27" font-size="7.15" text-anchor="start" textLength="17.8" lengthAdjust="spacingAndGlyphs" fill="#1a1a1a" stroke="#1a1a1a" stroke-width="0.27">BATF3</text>
<text x="490.4" y="664.57" font-size="7.15" text-anchor="start" textLength="12.4" lengthAdjust="spacingAndGlyphs" fill="#1a1a1a" stroke="#1a1a1a" stroke-width="0.27">IRF4</text>
<text x="490.4" y="681.97" font-size="7.15" text-anchor="start" textLength="20.6" lengthAdjust="spacingAndGlyphs" fill="#1a1a1a" stroke="#1a1a1a" stroke-width="0.27">β-Actin</text>
<clipPath id="c1018"><rect x="454" y="637.2" width="32.5" height="12.1"/></clipPath>
<rect x="454" y="637.2" width="32.5" height="12.1" fill="#e5e5e5" />
<g clip-path="url(#c1018)">
<g filter="url(#b1)">
<ellipse cx="459.2" cy="644.1" rx="3.4" ry="1.5" fill="#0c0c0c" opacity="1"/>
<ellipse cx="469.6" cy="644.5" rx="3.2" ry="1" fill="#0c0c0c" opacity="0.13"/>
<ellipse cx="481.4" cy="644.2" rx="3.3" ry="1.1" fill="#0c0c0c" opacity="0.28"/>
</g></g>
<clipPath id="c1026"><rect x="454" y="653.4" width="32.5" height="14.3"/></clipPath>
<rect x="454" y="653.4" width="32.5" height="14.3" fill="#c6c6c6" />
<g clip-path="url(#c1026)">
<g filter="url(#b1)">
<ellipse cx="458.6" cy="660.6" rx="4.7" ry="1.5" fill="#0c0c0c" opacity="0.74"/>
<ellipse cx="469" cy="660.3" rx="5.3" ry="2.2" fill="#0c0c0c" opacity="0.86"/>
<ellipse cx="480.4" cy="660.8" rx="4.4" ry="1.4" fill="#0c0c0c" opacity="0.72"/>
<ellipse cx="470" cy="660.6" rx="17" ry="0.9" fill="#0c0c0c" opacity="0.3"/>
</g></g>
<clipPath id="c1035"><rect x="454" y="672.2" width="32.5" height="13.6"/></clipPath>
<rect x="454" y="672.2" width="32.5" height="13.6" fill="#c4c4c4" />
<g clip-path="url(#c1035)">
<g filter="url(#b1)">
<rect x="454.4" y="676.8" width="9.6" height="3.4" rx="1.43" fill="#0c0c0c" opacity="1"/>
<rect x="465" y="676.8" width="9.6" height="3.4" rx="1.43" fill="#0c0c0c" opacity="1"/>
<rect x="476" y="676.8" width="9.6" height="3.4" rx="1.43" fill="#0c0c0c" opacity="1"/>
<ellipse cx="470" cy="678.6" rx="17" ry="1" fill="#0c0c0c" opacity="0.6"/>
<ellipse cx="459.2" cy="683" rx="3.3" ry="0.75" fill="#0c0c0c" opacity="0.2"/>
<ellipse cx="469.8" cy="683" rx="3.3" ry="0.75" fill="#0c0c0c" opacity="0.2"/>
<ellipse cx="480.8" cy="683" rx="3.3" ry="0.75" fill="#0c0c0c" opacity="0.2"/>
</g></g>
</g>
<rect x="0" y="0" width="520" height="1.1" fill="#000" />
<rect x="0" y="0" width="1.1" height="699" fill="#000" />
<rect x="518.9" y="0" width="1.1" height="699" fill="#000" />
<rect x="0" y="696.7" width="520" height="0.5" fill="#9a9a9a" />
<rect x="0" y="697" width="520" height="2" fill="#4f4f4f" />
</svg>
</body></html>
